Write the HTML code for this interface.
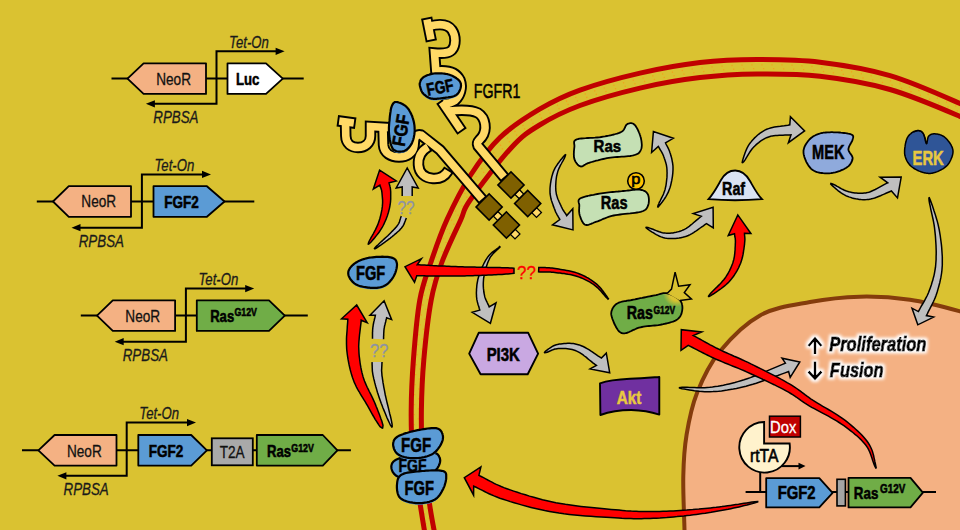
<!DOCTYPE html>
<html><head><meta charset="utf-8"><style>
html,body{margin:0;padding:0;background:#DAC231;width:960px;height:530px;overflow:hidden}
svg{display:block}
text{font-family:"Liberation Sans",sans-serif}
</style></head><body>
<svg width="960" height="530" viewBox="0 0 960 530">
<rect x="0" y="0" width="960" height="530" fill="#DAC231"/>
<path d="M684.5,548 C684.5,545 684.7,542 684.5,530 C684.3,518 682.9,491.9 683.3,476 C683.6,460.1 684.3,448.4 686.6,434.6 C688.9,420.8 691.5,406.9 697,393 C702.5,379.1 709.3,364.4 719.8,351.5 C730.3,338.6 745,323.6 760,315.4 C775,307.1 793.3,305.1 810,302 C826.7,298.9 843.3,297.1 860,296.7 C876.7,296.3 893.3,297.4 910,299.8 C926.7,302.2 947.5,307.9 960,311.3 C972.5,314.7 980.8,318.6 985,320 L985,548 Z" fill="#F4B183" stroke="#843C0C" stroke-width="4"/>
<path d="M432.7,538.5 L432.5,537.4 L432.3,536.3 L432.1,535.2 L431.9,534.1 L431.7,533.0 L431.5,531.9 L431.3,530.9 L431.1,529.8 L430.9,528.7 L430.7,527.7 L430.5,526.6 L430.3,525.6 L430.1,524.5 L430.0,523.4 L429.8,522.3 L429.6,521.2 L429.4,520.1 L429.3,519.6 L429.1,518.4 L428.9,517.2 L428.7,516.1 L428.5,514.8 L428.3,513.6 L428.1,512.3 L427.9,511.0 L427.6,509.7 L427.4,508.3 L427.2,506.9 L427.0,505.5 L426.8,504.0 L426.5,502.4 L426.3,500.8 L426.0,499.1 L425.8,497.4 L425.5,495.6 L425.2,493.8 L425.0,492.0 L424.7,490.2 L424.4,488.3 L424.1,486.4 L423.8,484.4 L423.5,482.5 L423.3,480.5 L423.0,478.5 L422.7,476.6 L422.4,474.6 L422.1,472.6 L421.9,470.6 L421.6,468.7 L421.4,466.7 L421.1,464.8 L420.9,462.9 L420.6,461.1 L420.4,459.2 L420.2,457.4 L420.0,455.6 L419.8,453.9 L419.6,452.3 L419.5,450.6 L419.3,449.0 L419.2,447.5 L419.1,446.0 L418.9,444.6 L418.9,443.8 L418.8,442.4 L418.7,441.1 L418.6,439.7 L418.5,438.4 L418.5,437.1 L418.4,435.8 L418.3,434.6 L418.3,433.3 L418.3,432.1 L418.2,430.9 L418.2,429.6 L418.2,428.4 L418.1,427.2 L418.1,426.0 L418.1,424.7 L418.1,423.5 L418.1,422.3 L418.1,421.0 L418.1,419.7 L418.1,418.4 L418.1,417.1 L418.1,415.7 L418.1,414.4 L418.2,412.9 L418.2,411.5 L418.2,410.0 L418.2,408.5 L418.2,407.0 L418.3,405.5 L418.3,403.9 L418.3,402.4 L418.4,400.8 L418.4,399.3 L418.4,397.7 L418.5,396.1 L418.5,394.5 L418.6,392.9 L418.6,391.3 L418.7,389.6 L418.8,388.0 L418.8,386.3 L418.9,384.7 L419.0,383.0 L419.1,381.3 L419.2,379.6 L419.3,377.9 L419.4,376.2 L419.5,374.4 L419.6,372.7 L419.7,370.9 L419.8,369.2 L419.9,367.4 L420.1,365.6 L420.2,363.8 L420.3,362.0 L420.5,360.2 L420.6,359.2 L420.7,357.4 L420.9,355.4 L421.1,353.5 L421.2,351.5 L421.4,349.5 L421.6,347.4 L421.8,345.4 L422.0,343.3 L422.2,341.2 L422.4,339.0 L422.6,336.9 L422.8,334.8 L423.0,332.7 L423.3,330.5 L423.5,328.4 L423.7,326.3 L424.0,324.2 L424.2,322.1 L424.5,320.0 L424.7,318.0 L425.0,315.9 L425.3,313.9 L425.5,312.0 L425.8,310.1 L426.1,308.2 L426.4,306.4 L426.6,304.6 L426.9,302.8 L427.2,301.2 L427.5,299.5 L427.8,298.0 L428.1,296.5 L428.4,295.0 L428.6,294.3 L428.9,292.9 L429.2,291.5 L429.5,290.2 L429.8,288.9 L430.2,287.6 L430.5,286.4 L430.8,285.1 L431.2,283.9 L431.5,282.8 L431.8,281.6 L432.2,280.4 L432.4,279.9 L432.7,278.7 L433.1,277.6 L433.5,276.5 L433.9,275.3 L434.2,274.2 L434.6,273.0 L435.0,271.9 L435.4,270.7 L435.8,269.5 L436.3,268.3 L436.7,267.1 L437.1,265.8 L437.6,264.6 L438.0,263.3 L438.5,262.0 L439.0,260.6 L439.5,259.3 L439.9,257.9 L440.5,256.5 L441.0,255.1 L441.5,253.7 L442.0,252.3 L442.6,250.9 L442.9,250.2 L443.4,248.7 L444.0,247.3 L444.6,245.8 L445.2,244.4 L445.8,242.9 L446.4,241.5 L447.0,240.0 L447.3,239.3 L447.9,237.8 L448.5,236.4 L449.1,234.9 L449.7,233.5 L450.4,232.0 L451.0,230.6 L451.6,229.2 L452.3,227.8 L452.9,226.4 L453.5,225.0 L454.1,223.7 L455.0,221.7 L455.6,220.4 L456.2,219.2 L457.0,217.4 L457.8,215.7 L458.5,213.9 L459.2,212.3 L459.8,210.6 L460.3,209.5 L460.8,208.3 L461.3,207.1 L462.0,205.8 L462.7,204.5 L463.2,203.4 L464.1,201.9 L464.8,200.7 L465.9,199.0 L466.7,197.6 L467.5,196.3 L468.4,194.9 L469.3,193.4 L470.3,191.9 L470.7,191.2 L471.7,189.7 L472.7,188.1 L473.8,186.5 L474.2,185.8 L475.3,184.3 L476.4,182.7 L477.6,181.0 L478.0,180.3 L479.2,178.7 L480.4,177.0 L480.8,176.3 L482.0,174.7 L483.3,173.0 L483.7,172.3 L485.0,170.7 L485.4,170.0 L486.7,168.3 L487.9,166.7 L488.4,166.0 L489.6,164.4 L490.9,162.7 L491.4,162.1 L492.7,160.5 L493.9,158.9 L494.4,158.3 L495.7,156.7 L496.9,155.2 L497.5,154.6 L498.7,153.1 L500.0,151.6 L500.5,151.0 L501.7,149.6 L502.9,148.3 L504.1,146.9 L504.7,146.4 L505.9,145.1 L507.0,143.9 L508.1,142.8 L509.3,141.7 L510.4,140.6 L511.5,139.5 L512.6,138.5 L513.7,137.5 L514.8,136.6 L515.9,135.7 L517.0,134.8 L518.0,133.9 L519.6,132.6 L520.6,131.8 L521.7,131.0 L523.2,129.9 L524.3,129.1 L525.3,128.4 L526.9,127.3 L528.0,126.6 L529.1,125.9 L530.7,124.8 L531.9,124.1 L533.5,123.0 L534.7,122.3 L536.0,121.5 L537.2,120.8 L538.5,120.0 L540.3,118.9 L541.5,118.1 L542.8,117.4 L544.1,116.7 L545.3,116.0 L546.5,115.2 L547.8,114.5 L549.0,113.8 L550.3,113.2 L551.5,112.5 L552.8,111.8 L554.0,111.2 L555.3,110.5 L555.9,110.2 L557.2,109.6 L558.5,108.9 L559.8,108.3 L561.1,107.7 L562.4,107.1 L563.7,106.4 L564.4,106.1 L565.7,105.5 L567.1,104.9 L568.5,104.3 L569.9,103.7 L571.4,103.1 L572.9,102.5 L573.6,102.3 L575.1,101.7 L576.7,101.1 L578.2,100.5 L579.9,99.9 L581.5,99.3 L583.2,98.7 L585.0,98.1 L586.8,97.4 L587.6,97.1 L589.5,96.5 L591.3,95.9 L593.2,95.3 L595.2,94.7 L597.1,94.1 L599.1,93.5 L601.1,92.9 L603.1,92.3 L605.2,91.7 L607.2,91.1 L609.3,90.5 L611.4,89.9 L613.5,89.3 L615.6,88.7 L617.7,88.2 L619.8,87.6 L621.9,87.0 L624.0,86.5 L626.1,86.0 L628.1,85.4 L630.2,84.9 L632.3,84.4 L634.4,83.9 L636.4,83.4 L638.4,82.9 L640.4,82.5 L642.4,82.0 L644.4,81.5 L646.4,81.1 L648.4,80.7 L649.4,80.4 L651.4,80.0 L653.4,79.6 L655.4,79.2 L657.5,78.8 L659.5,78.4 L661.5,78.0 L663.5,77.6 L665.5,77.2 L667.5,76.9 L669.5,76.5 L671.5,76.2 L673.5,75.8 L675.5,75.5 L677.5,75.1 L679.5,74.8 L681.5,74.5 L683.5,74.2 L685.5,73.9 L687.5,73.6 L689.4,73.3 L691.4,73.1 L693.4,72.8 L695.3,72.5 L697.3,72.3 L699.3,72.1 L701.2,71.8 L703.1,71.6 L705.0,71.4 L706.9,71.2 L708.8,71.0 L710.7,70.8 L712.6,70.6 L714.5,70.5 L716.4,70.3 L718.2,70.2 L720.1,70.0 L721.9,69.9 L723.8,69.8 L725.6,69.6 L727.5,69.5 L728.4,69.5 L730.3,69.4 L732.1,69.3 L734.0,69.2 L735.9,69.1 L737.7,69.1 L739.6,69.0 L741.5,68.9 L743.4,68.9 L745.3,68.8 L747.2,68.8 L749.2,68.7 L751.1,68.7 L753.1,68.7 L755.0,68.7 L757.0,68.6 L759.0,68.6 L761.0,68.6 L763.0,68.6 L765.1,68.6 L767.1,68.6 L769.1,68.6 L771.1,68.6 L773.2,68.6 L775.2,68.6 L777.3,68.7 L779.3,68.7 L781.4,68.7 L783.5,68.8 L785.5,68.8 L787.6,68.9 L789.7,68.9 L791.8,69.0 L793.9,69.1 L796.0,69.2 L798.2,69.3 L800.3,69.4 L802.4,69.6 L804.6,69.7 L806.7,69.9 L807.8,69.9 L809.9,70.1 L812.1,70.3 L814.3,70.5 L816.5,70.8 L818.7,71.0 L820.9,71.3 L823.1,71.5 L825.4,71.8 L827.6,72.1 L829.9,72.4 L832.1,72.7 L834.4,73.0 L836.7,73.4 L839.0,73.7 L841.4,74.1 L843.7,74.4 L846.0,74.8 L848.4,75.2 L850.7,75.6 L853.0,76.0 L855.4,76.4 L857.8,76.9 L860.1,77.3 L862.5,77.8 L864.8,78.3 L867.2,78.8 L869.6,79.3 L871.9,79.8 L874.3,80.4 L876.6,81.0 L879.0,81.5 L881.3,82.1 L883.7,82.8 L886.0,83.4 L887.1,83.7 L889.5,84.4 L891.8,85.1 L894.2,85.8 L896.7,86.6 L899.1,87.5 L901.6,88.3 L904.2,89.2 L906.7,90.1 L909.3,91.1 L911.9,92.0 L914.5,93.0 L917.1,94.0 L919.7,95.0 L922.3,96.1 L924.8,97.1 L927.4,98.1 L929.9,99.2 L932.4,100.2 L934.8,101.2 L937.2,102.2 L939.6,103.2 L941.9,104.2 L944.1,105.2 L946.3,106.1 L948.4,107.0 L950.4,107.9 L952.4,108.7 L953.2,109.1 L955.1,109.9 L956.8,110.6 L958.4,111.3 L959.8,112.0 L961.2,112.6 L961.8,112.9 L963.0,113.4 L964.2,113.9 L964.6,114.2 L965.6,114.7 L966.6,115.1 L966.9,115.3 L967.7,115.7 L968.0,115.9 L968.7,116.3 L969.0,116.5 L969.6,116.8 L969.8,117.0 L970.4,117.3 L970.6,117.5 L971.2,117.8 L971.4,118.0 L971.9,118.3 L972.1,118.5 L972.6,118.8 L972.8,118.9 L973.4,119.3 L973.9,119.6 L974.4,120.0 L974.7,120.1 L975.2,120.5 L975.8,120.8" fill="none" stroke="#F2A31C" stroke-width="1.3" stroke-dasharray="1.3 8.7" stroke-dashoffset="0"/>
<path d="M428.9,539.2 L428.7,538.0 L428.5,536.9 L428.3,535.8 L428.1,534.7 L427.9,533.7 L427.7,532.6 L427.6,531.5 L427.4,530.5 L427.2,529.4 L427.0,528.4 L426.8,527.3 L426.6,526.2 L426.4,525.2 L426.2,524.1 L426.0,523.0 L425.8,521.9 L425.6,520.8 L425.5,520.2 L425.3,519.0 L425.1,517.9 L424.9,516.7 L424.7,515.5 L424.5,514.2 L424.3,512.9 L424.1,511.6 L423.9,510.3 L423.7,508.9 L423.5,507.5 L423.2,506.0 L423.0,504.5 L422.8,503.0 L422.5,501.3 L422.3,499.7 L422.0,498.0 L421.8,496.2 L421.5,494.4 L421.2,492.6 L420.9,490.7 L420.6,488.8 L420.4,486.9 L420.1,485.0 L419.8,483.0 L419.5,481.0 L419.2,479.1 L418.9,477.1 L418.7,475.1 L418.4,473.1 L418.1,471.2 L417.8,469.2 L417.6,467.2 L417.3,465.3 L417.1,463.4 L416.9,461.5 L416.6,459.7 L416.4,457.9 L416.2,456.1 L416.0,454.3 L415.9,452.6 L415.7,451.0 L415.5,449.4 L415.4,447.8 L415.3,446.3 L415.2,444.9 L415.1,444.1 L415.0,442.7 L414.9,441.3 L414.8,440.0 L414.7,438.6 L414.7,437.3 L414.6,436.0 L414.5,434.7 L414.5,433.5 L414.5,432.2 L414.4,431.0 L414.4,429.7 L414.4,428.5 L414.3,427.3 L414.3,426.0 L414.3,424.8 L414.3,423.5 L414.3,422.3 L414.3,421.0 L414.3,419.7 L414.3,418.4 L414.3,417.1 L414.3,415.7 L414.4,414.3 L414.4,412.9 L414.4,411.5 L414.4,410.0 L414.4,408.5 L414.4,406.9 L414.5,405.4 L414.5,403.9 L414.5,402.3 L414.6,400.8 L414.6,399.2 L414.6,397.6 L414.7,396.0 L414.7,394.4 L414.8,392.8 L414.8,391.1 L414.9,389.5 L415.0,387.8 L415.0,386.2 L415.1,384.5 L415.2,382.8 L415.3,381.1 L415.4,379.4 L415.5,377.7 L415.6,375.9 L415.7,374.2 L415.8,372.4 L415.9,370.7 L416.0,368.9 L416.1,367.1 L416.3,365.3 L416.4,363.5 L416.6,361.7 L416.7,359.8 L416.8,358.9 L416.9,357.0 L417.1,355.1 L417.3,353.2 L417.4,351.2 L417.6,349.1 L417.8,347.1 L418.0,345.0 L418.2,342.9 L418.4,340.8 L418.6,338.7 L418.8,336.5 L419.0,334.4 L419.3,332.3 L419.5,330.1 L419.7,328.0 L420.0,325.8 L420.2,323.7 L420.5,321.6 L420.7,319.5 L421.0,317.5 L421.2,315.4 L421.5,313.4 L421.8,311.5 L422.0,309.5 L422.3,307.6 L422.6,305.8 L422.9,304.0 L423.2,302.2 L423.5,300.5 L423.8,298.8 L424.1,297.3 L424.4,295.7 L424.7,294.2 L424.9,293.5 L425.2,292.0 L425.5,290.6 L425.8,289.3 L426.1,287.9 L426.5,286.6 L426.8,285.4 L427.2,284.1 L427.5,282.9 L427.8,281.7 L428.2,280.5 L428.6,279.3 L428.8,278.7 L429.1,277.6 L429.5,276.4 L429.9,275.3 L430.2,274.1 L430.6,273.0 L431.0,271.8 L431.4,270.6 L431.8,269.5 L432.3,268.3 L432.7,267.1 L433.1,265.8 L433.6,264.6 L434.0,263.3 L434.5,262.0 L434.9,260.7 L435.4,259.4 L435.9,258.0 L436.4,256.6 L436.9,255.2 L437.4,253.8 L438.0,252.4 L438.5,250.9 L439.1,249.5 L439.3,248.8 L439.9,247.3 L440.5,245.9 L441.1,244.4 L441.6,242.9 L442.3,241.5 L442.9,240.0 L443.5,238.5 L443.7,237.8 L444.4,236.3 L445.0,234.9 L445.6,233.4 L446.3,232.0 L446.9,230.5 L447.5,229.1 L448.2,227.6 L448.8,226.2 L449.4,224.8 L450.1,223.5 L450.7,222.1 L451.6,220.1 L452.2,218.8 L452.8,217.6 L453.6,215.8 L454.3,214.2 L455.0,212.5 L455.6,210.9 L456.3,209.2 L456.8,208.0 L457.3,206.7 L457.9,205.5 L458.6,204.1 L459.3,202.7 L459.9,201.6 L460.8,200.0 L461.5,198.8 L462.6,197.0 L463.4,195.7 L464.3,194.3 L465.2,192.8 L466.1,191.4 L467.1,189.9 L467.5,189.2 L468.5,187.6 L469.6,186.0 L470.6,184.5 L471.0,183.7 L472.2,182.1 L473.3,180.5 L474.5,178.9 L474.9,178.2 L476.1,176.5 L477.3,174.8 L477.7,174.2 L479.0,172.5 L480.2,170.8 L480.6,170.1 L481.9,168.4 L482.4,167.7 L483.6,166.1 L484.9,164.4 L485.4,163.7 L486.6,162.1 L487.9,160.4 L488.4,159.8 L489.7,158.1 L491.0,156.5 L491.5,155.9 L492.7,154.3 L494.0,152.8 L494.5,152.1 L495.8,150.6 L497.1,149.1 L497.6,148.5 L498.9,147.1 L500.1,145.7 L501.3,144.4 L501.9,143.8 L503.1,142.5 L504.3,141.3 L505.5,140.1 L506.6,138.9 L507.8,137.8 L508.9,136.8 L510.0,135.7 L511.2,134.7 L512.3,133.7 L513.4,132.8 L514.5,131.8 L515.6,130.9 L517.2,129.7 L518.3,128.8 L519.4,128.0 L520.9,126.8 L522.1,126.0 L523.2,125.3 L524.7,124.2 L525.9,123.4 L527.0,122.7 L528.7,121.6 L529.8,120.9 L531.5,119.8 L532.7,119.0 L534.0,118.3 L535.2,117.5 L536.5,116.7 L538.3,115.6 L539.6,114.9 L540.9,114.1 L542.1,113.4 L543.4,112.7 L544.7,111.9 L545.9,111.2 L547.2,110.5 L548.5,109.8 L549.7,109.1 L551.0,108.5 L552.3,107.8 L553.6,107.1 L554.2,106.8 L555.5,106.2 L556.8,105.5 L558.1,104.9 L559.4,104.2 L560.8,103.6 L562.1,103.0 L562.8,102.7 L564.2,102.1 L565.6,101.5 L567.0,100.8 L568.5,100.2 L570.0,99.6 L571.5,99.0 L572.2,98.7 L573.7,98.1 L575.3,97.5 L576.9,96.9 L578.6,96.3 L580.2,95.7 L582.0,95.1 L583.7,94.5 L585.5,93.8 L586.4,93.5 L588.3,92.9 L590.2,92.3 L592.1,91.7 L594.0,91.1 L596.0,90.5 L598.0,89.8 L600.0,89.2 L602.1,88.6 L604.1,88.0 L606.2,87.4 L608.3,86.8 L610.4,86.2 L612.5,85.6 L614.6,85.1 L616.7,84.5 L618.8,83.9 L620.9,83.4 L623.0,82.8 L625.1,82.3 L627.2,81.7 L629.3,81.2 L631.4,80.7 L633.5,80.2 L635.5,79.7 L637.5,79.2 L639.6,78.8 L641.6,78.3 L643.6,77.8 L645.6,77.4 L647.6,77.0 L648.6,76.7 L650.6,76.3 L652.7,75.9 L654.7,75.5 L656.7,75.1 L658.7,74.7 L660.8,74.3 L662.8,73.9 L664.8,73.5 L666.8,73.1 L668.8,72.8 L670.9,72.4 L672.9,72.1 L674.9,71.7 L676.9,71.4 L678.9,71.1 L680.9,70.8 L682.9,70.4 L684.9,70.1 L686.9,69.9 L688.9,69.6 L690.9,69.3 L692.9,69.0 L694.9,68.8 L696.8,68.5 L698.8,68.3 L700.8,68.0 L702.7,67.8 L704.6,67.6 L706.6,67.4 L708.5,67.2 L710.4,67.0 L712.3,66.9 L714.2,66.7 L716.0,66.5 L717.9,66.4 L719.8,66.2 L721.7,66.1 L723.5,66.0 L725.4,65.8 L727.3,65.7 L728.2,65.7 L730.1,65.6 L732.0,65.5 L733.8,65.4 L735.7,65.3 L737.6,65.3 L739.5,65.2 L741.4,65.1 L743.3,65.1 L745.2,65.0 L747.1,65.0 L749.1,64.9 L751.0,64.9 L753.0,64.9 L755.0,64.9 L757.0,64.9 L759.0,64.8 L761.0,64.8 L763.0,64.8 L765.0,64.8 L767.1,64.8 L769.1,64.8 L771.1,64.8 L773.2,64.8 L775.3,64.8 L777.3,64.9 L779.4,64.9 L781.5,64.9 L783.6,65.0 L785.6,65.0 L787.7,65.1 L789.9,65.1 L792.0,65.2 L794.1,65.3 L796.2,65.4 L798.4,65.5 L800.5,65.6 L802.7,65.8 L804.8,65.9 L807.0,66.1 L808.1,66.2 L810.3,66.3 L812.5,66.5 L814.7,66.8 L816.9,67.0 L819.1,67.2 L821.3,67.5 L823.6,67.8 L825.8,68.1 L828.1,68.3 L830.4,68.6 L832.7,69.0 L835.0,69.3 L837.3,69.6 L839.6,69.9 L841.9,70.3 L844.3,70.7 L846.6,71.0 L849.0,71.4 L851.3,71.8 L853.7,72.3 L856.1,72.7 L858.5,73.1 L860.8,73.6 L863.2,74.1 L865.6,74.6 L868.0,75.1 L870.4,75.6 L872.8,76.1 L875.1,76.7 L877.5,77.3 L879.9,77.9 L882.3,78.5 L884.6,79.1 L887.0,79.7 L888.2,80.1 L890.5,80.8 L892.9,81.5 L895.4,82.2 L897.8,83.0 L900.3,83.9 L902.9,84.7 L905.4,85.6 L908.0,86.6 L910.6,87.5 L913.2,88.5 L915.9,89.5 L918.5,90.5 L921.1,91.5 L923.7,92.5 L926.3,93.6 L928.8,94.6 L931.4,95.7 L933.9,96.7 L936.3,97.7 L938.7,98.7 L941.1,99.7 L943.4,100.7 L945.6,101.7 L947.8,102.6 L949.9,103.5 L951.9,104.4 L953.9,105.2 L954.8,105.6 L956.6,106.4 L958.3,107.1 L959.9,107.8 L961.4,108.5 L962.8,109.1 L963.4,109.4 L964.6,110.0 L965.8,110.5 L966.3,110.8 L967.3,111.3 L968.3,111.7 L968.7,112.0 L969.5,112.4 L969.8,112.6 L970.6,113.0 L970.9,113.2 L971.6,113.6 L971.8,113.8 L972.5,114.1 L972.7,114.3 L973.3,114.6 L973.5,114.8 L974.0,115.2 L974.2,115.3 L974.7,115.6 L975.0,115.8 L975.5,116.1 L976.0,116.5 L976.5,116.8 L976.7,116.9 L977.3,117.3 L977.8,117.6" fill="none" stroke="#F2A31C" stroke-width="1.3" stroke-dasharray="1.3 8.7" stroke-dashoffset="5"/>
<path d="M426,540 C425.1,534.2 422.6,520 420.3,505 C418.1,490 414,465.8 412.5,450 C411,434.2 411.1,425 411.2,410 C411.3,395 412,378.3 413.4,360 C414.8,341.7 416.9,316.3 419.8,300 C422.7,283.7 426.5,275.3 431,262 C435.5,248.7 440.3,234.3 446.8,220 C453.3,205.7 461.1,189.8 470,176 C478.9,162.2 488.4,148.6 500,137.5 C511.6,126.4 526.3,117.1 539.6,109.2 C552.9,101.3 563.3,96.1 580,90.1 C596.7,84.1 620,77.7 640,73.1 C660,68.5 680.5,64.8 700,62.5 C719.5,60.2 737,59.5 757,59.5 C777,59.5 797.8,59.5 820,62.2 C842.2,64.9 866.7,68.7 890,75.6 C913.3,82.5 945,96.9 960,103.5 C975,110.1 976.7,113.1 980,115" fill="none" stroke="#C00000" stroke-width="5"/>
<path d="M436,540 C434.9,534.2 431.9,520 429.7,505 C427.4,490 423.9,465.8 422.5,450 C421.1,434.2 421.2,425 421.4,410 C421.6,395 422.2,378.3 423.8,360 C425.4,341.7 428.2,316.3 431.2,300 C434.2,283.7 437.1,275.3 442,262 C446.9,248.7 456,230.3 460.7,220 C465.4,209.7 461.8,212.1 470.2,200 C478.6,187.9 499.7,160.2 511.3,147.7 C522.9,135.2 528.1,132 539.6,125 C551.1,118 563.3,111.7 580,105.5 C596.7,99.3 620,92.8 640,88.1 C660,83.4 680.5,79.9 700,77.6 C719.5,75.2 737,74.2 757,74 C777,73.8 797.8,73.7 820,76.3 C842.2,78.9 866.7,82.8 890,89.5 C913.3,96.2 945,110 960,116.4 C975,122.8 976.7,126.1 980,128" fill="none" stroke="#C00000" stroke-width="5"/>
<line x1="111.5" y1="78.6" x2="303.7" y2="78.6" stroke="#000" stroke-width="2"/>
<polygon points="127.5,78.6 143.6,63.3 206,63.3 206,93.9 143.6,93.9" fill="#F4B183" stroke="#000" stroke-width="1.8" stroke-linejoin="round"/>
<text transform="translate(156.21,84.59) scale(0.833,1)" font-size="16.36" font-weight="normal" font-style="normal" fill="#111"  stroke="#111" stroke-width="0.30">NeoR</text>
<polygon points="227.5,63.3 266,63.3 282.8,78.6 266,93.9 227.5,93.9" fill="#FFFFFF" stroke="#000" stroke-width="1.8" stroke-linejoin="round"/>
<text transform="translate(235.94,84.83) scale(0.787,1)" font-size="16.79" font-weight="bold" font-style="normal" fill="#000"  stroke="#000" stroke-width="0.55">Luc</text>
<polyline points="278.6,51.3 216.5,51.3 216.5,103.8 151.9,103.8" fill="none" stroke="#000" stroke-width="2"/>
<polygon points="284.6,51.3 275.6,47.7 275.6,54.9" fill="#000"/>
<polygon points="145.9,103.8 154.9,100.2 154.9,107.4" fill="#000"/>
<text transform="translate(229.11,48.14) scale(0.799,1)" font-size="16.48" font-weight="normal" font-style="italic" fill="#1a1a1a"  stroke="#1a1a1a" stroke-width="0.30">Tet-On</text>
<text transform="translate(153.30,122.74) scale(0.810,1)" font-size="16.48" font-weight="normal" font-style="italic" fill="#1a1a1a"  stroke="#1a1a1a" stroke-width="0.30">RPBSA</text>
<line x1="36.8" y1="201.5" x2="254.3" y2="201.5" stroke="#000" stroke-width="2"/>
<polygon points="53,201.5 68.8,186.2 131,186.2 131,216.8 68.8,216.8" fill="#F4B183" stroke="#000" stroke-width="1.8" stroke-linejoin="round"/>
<text transform="translate(81.31,207.49) scale(0.833,1)" font-size="16.36" font-weight="normal" font-style="normal" fill="#111"  stroke="#111" stroke-width="0.30">NeoR</text>
<polygon points="153.5,186.2 206.9,186.2 224.5,201.5 206.9,216.8 153.5,216.8" fill="#5B9BD5" stroke="#000" stroke-width="1.8" stroke-linejoin="round"/>
<text transform="translate(164.32,207.64) scale(0.832,1)" font-size="16.20" font-weight="bold" font-style="normal" fill="#000"  stroke="#000" stroke-width="0.55">FGF2</text>
<polyline points="205,174.4 141.9,174.4 141.9,227.7 77.5,227.7" fill="none" stroke="#000" stroke-width="2"/>
<polygon points="211,174.4 202,170.8 202,178" fill="#000"/>
<polygon points="71.5,227.7 80.5,224.1 80.5,231.3" fill="#000"/>
<text transform="translate(154.51,171.24) scale(0.799,1)" font-size="16.48" font-weight="normal" font-style="italic" fill="#1a1a1a"  stroke="#1a1a1a" stroke-width="0.30">Tet-On</text>
<text transform="translate(78.70,246.64) scale(0.810,1)" font-size="16.48" font-weight="normal" font-style="italic" fill="#1a1a1a"  stroke="#1a1a1a" stroke-width="0.30">RPBSA</text>
<line x1="80.8" y1="315.6" x2="307.8" y2="315.6" stroke="#000" stroke-width="2"/>
<polygon points="97,315.6 112.8,300.3 175.1,300.3 175.1,330.9 112.8,330.9" fill="#F4B183" stroke="#000" stroke-width="1.8" stroke-linejoin="round"/>
<text transform="translate(125.36,321.59) scale(0.833,1)" font-size="16.36" font-weight="normal" font-style="normal" fill="#111"  stroke="#111" stroke-width="0.30">NeoR</text>
<polygon points="196.8,300.3 269,300.3 284.8,315.6 269,330.9 196.8,330.9" fill="#70AD47" stroke="#000" stroke-width="1.8" stroke-linejoin="round"/>
<text transform="translate(210.15,321.64) scale(0.797,1)" font-size="16.43" font-weight="bold" font-style="normal" fill="#000"  stroke="#000" stroke-width="0.55">Ras</text>
<text transform="translate(234.45,316.49) scale(0.812,1)" font-size="10.85" font-weight="bold" font-style="normal" fill="#000"  stroke="#000" stroke-width="0.55">G12V</text>
<polyline points="248.2,288.6 185.9,288.6 185.9,341.7 120.7,341.7" fill="none" stroke="#000" stroke-width="2"/>
<polygon points="254.2,288.6 245.2,285 245.2,292.2" fill="#000"/>
<polygon points="114.7,341.7 123.7,338.1 123.7,345.3" fill="#000"/>
<text transform="translate(198.51,285.44) scale(0.799,1)" font-size="16.48" font-weight="normal" font-style="italic" fill="#1a1a1a"  stroke="#1a1a1a" stroke-width="0.30">Tet-On</text>
<text transform="translate(122.70,360.64) scale(0.810,1)" font-size="16.48" font-weight="normal" font-style="italic" fill="#1a1a1a"  stroke="#1a1a1a" stroke-width="0.30">RPBSA</text>
<line x1="22" y1="450.3" x2="350.9" y2="450.3" stroke="#000" stroke-width="2"/>
<polygon points="38.4,450.3 54.6,435 116.5,435 116.5,465.6 54.6,465.6" fill="#F4B183" stroke="#000" stroke-width="1.8" stroke-linejoin="round"/>
<text transform="translate(66.96,457.19) scale(0.833,1)" font-size="16.36" font-weight="normal" font-style="normal" fill="#111"  stroke="#111" stroke-width="0.30">NeoR</text>
<polygon points="138.3,435 191.2,435 206.9,450.3 191.2,465.6 138.3,465.6" fill="#5B9BD5" stroke="#000" stroke-width="1.8" stroke-linejoin="round"/>
<text transform="translate(148.87,457.34) scale(0.832,1)" font-size="16.20" font-weight="bold" font-style="normal" fill="#000"  stroke="#000" stroke-width="0.55">FGF2</text>
<rect x="211.8" y="438.3" width="41" height="27" fill="#A9A9A9" stroke="#000" stroke-width="1.8"/>
<text transform="translate(219.71,457.52) scale(0.820,1)" font-size="16.60" font-weight="normal" font-style="normal" fill="#111"  stroke="#111" stroke-width="0.30">T2A</text>
<polygon points="256.8,435 322.8,435 337.4,450.3 322.8,465.6 256.8,465.6" fill="#70AD47" stroke="#000" stroke-width="1.8" stroke-linejoin="round"/>
<text transform="translate(267.05,457.24) scale(0.797,1)" font-size="16.43" font-weight="bold" font-style="normal" fill="#000"  stroke="#000" stroke-width="0.55">Ras</text>
<text transform="translate(291.35,452.09) scale(0.812,1)" font-size="10.85" font-weight="bold" font-style="normal" fill="#000"  stroke="#000" stroke-width="0.55">G12V</text>
<polyline points="190,422.6 126.7,422.6 126.7,475.8 63.4,475.8" fill="none" stroke="#000" stroke-width="2"/>
<polygon points="196,422.6 187,419 187,426.2" fill="#000"/>
<polygon points="57.4,475.8 66.4,472.2 66.4,479.4" fill="#000"/>
<text transform="translate(139.31,419.44) scale(0.799,1)" font-size="16.48" font-weight="normal" font-style="italic" fill="#1a1a1a"  stroke="#1a1a1a" stroke-width="0.30">Tet-On</text>
<text transform="translate(63.50,494.74) scale(0.810,1)" font-size="16.48" font-weight="normal" font-style="italic" fill="#1a1a1a"  stroke="#1a1a1a" stroke-width="0.30">RPBSA</text>
<path d="M337.32,120.74 L339.20,121.00 L353.8,123 L355.68,123.26" fill="none" stroke="#000" stroke-width="11.4" stroke-linejoin="miter" stroke-linecap="butt"/>
<path d="M345.46,120.10 L345.50,122.00 L345.8,136 C346,144 351.5,147.5 358,147.5 C365,147.5 370.5,143 370.5,136 L370.5,126.5 L395,128 L396.90,128.12" fill="none" stroke="#000" stroke-width="11.4" stroke-linejoin="miter" stroke-linecap="butt"/>
<path d="M382.95,125.10 L383.00,127.00 L383.5,145 C384,153 391,157 399,157 C407,157 413,153 414,146 L414.5,140 C415,136 418,134 421,135 L440,150 L482,199 L483.24,200.44" fill="none" stroke="#000" stroke-width="11.4" stroke-linejoin="miter" stroke-linecap="butt"/>
<path d="M429.65,146.06 L428.00,147.00 C421,151 418,158 418.5,165 C419,173 425,178 433,178.5 C440,179 445,176 448,171 L448.98,169.37" fill="none" stroke="#000" stroke-width="11.4" stroke-linejoin="miter" stroke-linecap="butt"/>
<path d="M339.2,121 L353.8,123" fill="none" stroke="#FFD966" stroke-width="7.6" stroke-linejoin="miter" stroke-linecap="butt"/>
<path d="M345.5,122 L345.8,136 C346,144 351.5,147.5 358,147.5 C365,147.5 370.5,143 370.5,136 L370.5,126.5 L395,128" fill="none" stroke="#FFD966" stroke-width="7.6" stroke-linejoin="miter" stroke-linecap="butt"/>
<path d="M383,127 L383.5,145 C384,153 391,157 399,157 C407,157 413,153 414,146 L414.5,140 C415,136 418,134 421,135 L440,150 L482,199" fill="none" stroke="#FFD966" stroke-width="7.6" stroke-linejoin="miter" stroke-linecap="butt"/>
<path d="M428,147 C421,151 418,158 418.5,165 C419,173 425,178 433,178.5 C440,179 445,176 448,171" fill="none" stroke="#FFD966" stroke-width="7.6" stroke-linejoin="miter" stroke-linecap="butt"/>
<rect x="511.5" y="230.5" width="7" height="7" transform="rotate(45 515 234)" fill="#FFD966" stroke="#000" stroke-width="1.3"/>
<rect x="494.6" y="212.8" width="6.5" height="6.5" transform="rotate(45 497.8 216)" fill="#FFD966" stroke="#000" stroke-width="1.3"/>
<rect x="479.9" y="197.8" width="18.5" height="18.5" transform="rotate(45 489.2 207)" fill="#7F6000" stroke="#000" stroke-width="1.6"/>
<rect x="497.1" y="215.8" width="18.5" height="18.5" transform="rotate(45 506.4 225.1)" fill="#7F6000" stroke="#000" stroke-width="1.6"/>
<path d="M426.63,17.64 L427.00,19.50 L431,39.5 L431.37,41.36" fill="none" stroke="#000" stroke-width="11.4" stroke-linejoin="miter" stroke-linecap="butt"/>
<path d="M428.16,26.46 L430.00,26.00 C440,23.5 448,24 452,30 C456,36 456,45 452,50 C448,54 441,53.5 434.5,53 L437,86 L437.14,87.89" fill="none" stroke="#000" stroke-width="11.4" stroke-linejoin="miter" stroke-linecap="butt"/>
<path d="M435.11,71.19 L437.00,71.00 C447,70 456,72 460,80 C463,88 460,96 455,100.5 C451,103 447,104 443,103.5 L441.11,103.26" fill="none" stroke="#000" stroke-width="11.4" stroke-linejoin="miter" stroke-linecap="butt"/>
<path d="M440.93,100.43 L442.00,102.00 L461,130 L462.07,131.57" fill="none" stroke="#000" stroke-width="11.4" stroke-linejoin="miter" stroke-linecap="butt"/>
<path d="M447.11,111.21 L449.00,111.00 C458,110 470,109 478,113 C486,118 487,130 482,137 C479,141 476,142 478,146 L504,177 L505.22,178.46" fill="none" stroke="#000" stroke-width="11.4" stroke-linejoin="miter" stroke-linecap="butt"/>
<path d="M427,19.5 L431,39.5" fill="none" stroke="#FFD966" stroke-width="7.6" stroke-linejoin="miter" stroke-linecap="butt"/>
<path d="M430,26 C440,23.5 448,24 452,30 C456,36 456,45 452,50 C448,54 441,53.5 434.5,53 L437,86" fill="none" stroke="#FFD966" stroke-width="7.6" stroke-linejoin="miter" stroke-linecap="butt"/>
<path d="M437,71 C447,70 456,72 460,80 C463,88 460,96 455,100.5 C451,103 447,104 443,103.5" fill="none" stroke="#FFD966" stroke-width="7.6" stroke-linejoin="miter" stroke-linecap="butt"/>
<path d="M442,102 L461,130" fill="none" stroke="#FFD966" stroke-width="7.6" stroke-linejoin="miter" stroke-linecap="butt"/>
<path d="M449,111 C458,110 470,109 478,113 C486,118 487,130 482,137 C479,141 476,142 478,146 L504,177" fill="none" stroke="#FFD966" stroke-width="7.6" stroke-linejoin="miter" stroke-linecap="butt"/>
<rect x="533" y="209" width="7" height="7" transform="rotate(45 536.5 212.5)" fill="#FFD966" stroke="#000" stroke-width="1.3"/>
<rect x="516" y="190.9" width="6.5" height="6.5" transform="rotate(45 519.3 194.2)" fill="#FFD966" stroke="#000" stroke-width="1.3"/>
<rect x="501.8" y="175.8" width="18.5" height="18.5" transform="rotate(45 511 185)" fill="#7F6000" stroke="#000" stroke-width="1.6"/>
<rect x="518.5" y="194.2" width="18.5" height="18.5" transform="rotate(45 527.7 203.4)" fill="#7F6000" stroke="#000" stroke-width="1.6"/>
<path d="M424.1,78.4 L424.8,78 L425.5,77.7 L426.3,77.3 L427.1,76.9 L428,76.6 L429,76.3 L429.9,76 L430.9,75.7 L431.9,75.5 L432.9,75.3 L434,75.1 L435,75 L436,74.9 L437.1,74.9 L438.3,74.9 L439.5,74.9 L440.6,74.9 L441.8,75 L443,75.1 L444.2,75.2 L445.4,75.4 L446.5,75.6 L447.6,75.8 L448.6,76.1 L449.6,76.4 L450.6,76.8 L451.6,77.2 L452.6,77.6 L453.5,78.1 L454.4,78.6 L455.3,79.1 L456.1,79.6 L456.9,80.2 L457.6,80.7 L458.2,81.3 L458.8,81.8 L459.3,82.3 L459.7,82.9 L460,83.4 L460.3,83.9 L460.6,84.5 L460.7,85 L460.9,85.6 L460.9,86.2 L461,86.8 L461,87.4 L460.9,88 L460.8,88.6 L460.7,89.3 L460.5,89.9 L460.3,90.7 L460,91.4 L459.7,92.2 L459.3,93 L458.9,93.7 L458.4,94.4 L457.9,95.1 L457.3,95.7 L456.7,96.3 L456,96.8 L455.2,97.2 L454.4,97.6 L453.5,97.9 L452.5,98.2 L451.4,98.4 L450.4,98.6 L449.3,98.8 L448.1,99 L447,99.1 L445.9,99.2 L444.8,99.4 L443.8,99.5 L442.8,99.6 L441.7,99.8 L440.7,99.9 L439.6,100.1 L438.5,100.2 L437.5,100.3 L436.4,100.4 L435.4,100.4 L434.4,100.5 L433.4,100.4 L432.5,100.3 L431.6,100.2 L430.8,100 L429.9,99.7 L429.1,99.4 L428.4,99.1 L427.6,98.7 L426.9,98.2 L426.2,97.8 L425.6,97.3 L425,96.8 L424.4,96.3 L423.9,95.9 L423.4,95.4 L423,94.9 L422.6,94.5 L422.2,93.9 L421.9,93.4 L421.6,92.9 L421.4,92.4 L421.2,91.9 L421,91.3 L420.8,90.8 L420.7,90.3 L420.5,89.8 L420.4,89.3 L420.3,88.8 L420.1,88.4 L420,87.9 L419.9,87.5 L419.8,87 L419.8,86.6 L419.7,86.1 L419.7,85.7 L419.7,85.2 L419.8,84.8 L419.9,84.4 L420,83.9 L420.2,83.4 L420.3,83 L420.5,82.5 L420.8,82 L421,81.5 L421.3,81 L421.7,80.5 L422.1,80.1 L422.5,79.6 L423,79.2 L423.5,78.8 L424.1,78.4 Z" fill="#5B9BD5" stroke="none" stroke-width="0" stroke-linejoin="round" />
<path d="M424.1,76.8 L424.8,76.4 L425.5,76.1 L426.3,75.7 L427.1,75.3 L428,75 L429,74.7 L429.9,74.4 L430.9,74.1 L431.9,73.9 L432.9,73.7 L434,73.5 L435,73.4 L436,73.3 L437.1,73.3 L438.3,73.3 L439.5,73.3 L440.6,73.3 L441.8,73.4 L443,73.5 L444.2,73.6 L445.4,73.8 L446.5,74 L447.6,74.2 L448.6,74.5 L449.6,74.8 L450.6,75.2 L451.6,75.6 L452.6,76 L453.5,76.5 L454.4,77 L455.3,77.5 L456.1,78 L456.9,78.6 L457.6,79.1 L458.2,79.7 L458.8,80.2 L459.3,80.7 L459.7,81.3 L460,81.8 L460.3,82.3 L460.6,82.9 L460.7,83.4 L460.9,84 L460.9,84.6 L461,85.2 L461,85.8 L460.9,86.4 L460.8,87 L460.7,87.7 L460.5,88.3 L460.3,89.1 L460,89.8 L459.7,90.6 L459.3,91.4 L458.9,92.1 L458.4,92.8 L457.9,93.5 L457.3,94.1 L456.7,94.7 L456,95.2 L455.2,95.6 L454.4,96 L453.5,96.3 L452.5,96.6 L451.4,96.8 L450.4,97 L449.3,97.2 L448.1,97.4 L447,97.5 L445.9,97.6 L444.8,97.8 L443.8,97.9 L442.8,98 L441.7,98.2 L440.7,98.3 L439.6,98.5 L438.5,98.6 L437.5,98.7 L436.4,98.8 L435.4,98.8 L434.4,98.9 L433.4,98.8 L432.5,98.7 L431.6,98.6 L430.8,98.4 L429.9,98.1 L429.1,97.8 L428.4,97.5 L427.6,97.1 L426.9,96.6 L426.2,96.2 L425.6,95.7 L425,95.2 L424.4,94.7 L423.9,94.3 L423.4,93.8 L423,93.3 L422.6,92.9 L422.2,92.3 L421.9,91.8 L421.6,91.3 L421.4,90.8 L421.2,90.3 L421,89.7 L420.8,89.2 L420.7,88.7 L420.5,88.2 L420.4,87.7 L420.3,87.2 L420.1,86.8 L420,86.3 L419.9,85.9 L419.8,85.4 L419.8,85 L419.7,84.5 L419.7,84.1 L419.7,83.6 L419.8,83.2 L419.9,82.8 L420,82.3 L420.2,81.8 L420.3,81.4 L420.5,80.9 L420.8,80.4 L421,79.9 L421.3,79.4 L421.7,78.9 L422.1,78.5 L422.5,78 L423,77.6 L423.5,77.2 L424.1,76.8 Z" fill="#5B9BD5" stroke="#000" stroke-width="2.2" stroke-linejoin="round" />
<text transform="translate(440.20,87.20) rotate(-11.0) translate(-13.83,6.11) scale(0.770,1)" font-size="17.70" font-weight="bold" fill="#000" stroke="#000" stroke-width="0.55">FGF</text>
<path d="M406.6,108.6 L407.3,109.3 L407.9,110.1 L408.6,110.9 L409.2,111.8 L409.7,112.8 L410.3,113.8 L410.8,114.8 L411.3,115.8 L411.7,116.8 L412.2,117.9 L412.5,119 L412.9,120 L413.2,121.1 L413.5,122.2 L413.8,123.3 L414,124.4 L414.2,125.6 L414.4,126.7 L414.5,127.9 L414.6,129.1 L414.6,130.2 L414.7,131.4 L414.7,132.5 L414.6,133.6 L414.5,134.7 L414.4,135.8 L414.2,136.9 L414,138 L413.8,139.1 L413.5,140.2 L413.2,141.3 L412.9,142.3 L412.5,143.3 L412.1,144.3 L411.7,145.2 L411.2,146 L410.7,146.8 L410.2,147.6 L409.6,148.3 L409,149 L408.3,149.7 L407.6,150.3 L406.9,150.9 L406.2,151.4 L405.5,151.9 L404.7,152.3 L404,152.6 L403.2,152.8 L402.4,153 L401.6,153.1 L400.7,153.2 L399.7,153.2 L398.8,153.2 L397.8,153.1 L396.9,152.9 L396,152.6 L395.2,152.2 L394.4,151.8 L393.6,151.3 L393,150.6 L392.4,149.8 L391.9,148.9 L391.5,147.8 L391.1,146.6 L390.7,145.4 L390.4,144 L390.1,142.7 L389.8,141.3 L389.6,139.9 L389.4,138.5 L389.2,137.1 L389.1,135.8 L389,134.5 L388.9,133.2 L388.9,131.8 L388.9,130.5 L388.9,129.1 L389,127.8 L389.1,126.4 L389.2,125.1 L389.3,123.7 L389.5,122.5 L389.6,121.2 L389.7,120 L389.8,118.8 L389.9,117.6 L390.1,116.4 L390.2,115.3 L390.4,114.1 L390.6,113 L390.7,111.9 L390.9,110.9 L391.1,109.9 L391.4,109 L391.6,108.2 L391.9,107.5 L392.2,106.8 L392.5,106.2 L392.8,105.7 L393.1,105.2 L393.4,104.8 L393.7,104.5 L394.1,104.2 L394.5,103.9 L394.9,103.7 L395.4,103.6 L395.9,103.6 L396.5,103.6 L397.2,103.7 L397.9,103.8 L398.7,104.1 L399.6,104.4 L400.5,104.7 L401.4,105.1 L402.4,105.6 L403.3,106.1 L404.2,106.7 L405.1,107.3 L405.9,107.9 L406.6,108.6 Z" fill="#5B9BD5" stroke="none" stroke-width="0" stroke-linejoin="round" />
<path d="M406.6,107 L407.3,107.7 L407.9,108.5 L408.6,109.3 L409.2,110.2 L409.7,111.2 L410.3,112.2 L410.8,113.2 L411.3,114.2 L411.7,115.2 L412.2,116.3 L412.5,117.4 L412.9,118.4 L413.2,119.5 L413.5,120.6 L413.8,121.7 L414,122.8 L414.2,124 L414.4,125.1 L414.5,126.3 L414.6,127.5 L414.6,128.6 L414.7,129.8 L414.7,130.9 L414.6,132 L414.5,133.1 L414.4,134.2 L414.2,135.3 L414,136.4 L413.8,137.5 L413.5,138.6 L413.2,139.7 L412.9,140.7 L412.5,141.7 L412.1,142.7 L411.7,143.6 L411.2,144.4 L410.7,145.2 L410.2,146 L409.6,146.7 L409,147.4 L408.3,148.1 L407.6,148.7 L406.9,149.3 L406.2,149.8 L405.5,150.3 L404.7,150.7 L404,151 L403.2,151.2 L402.4,151.4 L401.6,151.5 L400.7,151.6 L399.7,151.6 L398.8,151.6 L397.8,151.5 L396.9,151.3 L396,151 L395.2,150.6 L394.4,150.2 L393.6,149.7 L393,149 L392.4,148.2 L391.9,147.3 L391.5,146.2 L391.1,145 L390.7,143.8 L390.4,142.4 L390.1,141.1 L389.8,139.7 L389.6,138.3 L389.4,136.9 L389.2,135.5 L389.1,134.2 L389,132.9 L388.9,131.6 L388.9,130.2 L388.9,128.9 L388.9,127.5 L389,126.2 L389.1,124.8 L389.2,123.5 L389.3,122.1 L389.5,120.9 L389.6,119.6 L389.7,118.4 L389.8,117.2 L389.9,116 L390.1,114.8 L390.2,113.7 L390.4,112.5 L390.6,111.4 L390.7,110.3 L390.9,109.3 L391.1,108.3 L391.4,107.4 L391.6,106.6 L391.9,105.9 L392.2,105.2 L392.5,104.6 L392.8,104.1 L393.1,103.6 L393.4,103.2 L393.7,102.9 L394.1,102.6 L394.5,102.3 L394.9,102.1 L395.4,102 L395.9,102 L396.5,102 L397.2,102.1 L397.9,102.2 L398.7,102.5 L399.6,102.8 L400.5,103.1 L401.4,103.5 L402.4,104 L403.3,104.5 L404.2,105.1 L405.1,105.7 L405.9,106.3 L406.6,107 Z" fill="#5B9BD5" stroke="#000" stroke-width="2.2" stroke-linejoin="round" />
<text transform="translate(401.00,130.00) rotate(-80.0) translate(-16.24,6.42) scale(0.860,1)" font-size="18.60" font-weight="bold" fill="#000" stroke="#000" stroke-width="0.55">FGF</text>
<path d="M576.8,139.4 L578.1,139 L579.7,138.7 L581.5,138.5 L583.5,138.3 L585.7,138.2 L588,138 L590.3,137.9 L592.7,137.8 L595,137.7 L597.2,137.5 L599.4,137.3 L601.3,137 L603.2,136.7 L605,136.4 L606.9,136 L608.7,135.7 L610.5,135.3 L612.3,134.9 L614,134.5 L615.6,134 L617.1,133.6 L618.6,133.1 L619.8,132.6 L621,132.1 L622,131.5 L622.8,130.9 L623.5,130.1 L624,129.4 L624.4,128.6 L624.8,127.8 L625.2,127 L625.5,126.3 L625.8,125.7 L626.2,125.1 L626.6,124.6 L627.1,124.2 L627.7,123.9 L628.3,123.7 L628.9,123.5 L629.5,123.3 L630.2,123.2 L630.8,123.2 L631.4,123.2 L632.1,123.3 L632.7,123.5 L633.3,123.8 L633.9,124.2 L634.5,124.7 L635.1,125.3 L635.7,126.1 L636.2,126.9 L636.8,127.9 L637.4,129 L638,130.1 L638.5,131.3 L639,132.5 L639.5,133.6 L639.9,134.8 L640.3,135.9 L640.6,137 L640.9,138 L641.1,139.1 L641.3,140.2 L641.5,141.3 L641.6,142.4 L641.7,143.5 L641.8,144.6 L641.8,145.7 L641.7,146.7 L641.6,147.6 L641.4,148.5 L641.1,149.3 L640.8,150 L640.5,150.7 L640.1,151.3 L639.7,151.9 L639.3,152.5 L638.8,153 L638.2,153.4 L637.5,153.9 L636.6,154.3 L635.7,154.7 L634.6,155 L633.3,155.4 L631.8,155.7 L630.1,156 L628.2,156.2 L626.2,156.4 L624,156.6 L621.7,156.7 L619.4,156.9 L617.2,157 L614.9,157.2 L612.7,157.4 L610.6,157.6 L608.7,157.9 L606.9,158.2 L605,158.6 L603.2,159 L601.4,159.4 L599.6,159.8 L597.9,160.3 L596.2,160.7 L594.6,161.2 L593.1,161.6 L591.7,162 L590.3,162.4 L589.1,162.8 L588,163.2 L587,163.6 L586.1,164 L585.3,164.5 L584.6,164.9 L584,165.4 L583.3,165.7 L582.8,166.1 L582.2,166.3 L581.7,166.4 L581.1,166.5 L580.5,166.4 L579.9,166.2 L579.3,165.9 L578.7,165.5 L578.1,165 L577.5,164.4 L576.9,163.7 L576.4,163 L575.9,162.3 L575.4,161.5 L575,160.7 L574.7,159.9 L574.4,159.1 L574.2,158.2 L574,157.3 L573.9,156.3 L573.9,155.2 L573.8,154.1 L573.9,153 L573.9,151.8 L574,150.7 L574.1,149.6 L574.2,148.6 L574.3,147.7 L574.4,146.8 L574.4,146 L574.4,145.2 L574.3,144.5 L574.2,143.8 L574.1,143.1 L574.1,142.5 L574.1,141.9 L574.3,141.3 L574.6,140.8 L575.1,140.3 L575.8,139.8 L576.8,139.4 Z" fill="#C5E0B4" stroke="#000" stroke-width="1.8" stroke-linejoin="round" />
<text transform="translate(593.62,151.73) scale(0.884,1)" font-size="17.00" font-weight="bold" font-style="normal" fill="#000"  stroke="#000" stroke-width="0.55">Ras</text>
<path d="M601.3,193.4 L603.1,193.1 L605,192.8 L606.8,192.6 L608.8,192.4 L610.7,192.2 L612.6,192 L614.5,191.8 L616.3,191.6 L618.2,191.5 L620,191.3 L621.7,191.2 L623.4,191 L625,190.8 L626.7,190.7 L628.3,190.5 L629.9,190.3 L631.4,190.1 L632.9,189.9 L634.4,189.8 L635.8,189.7 L637.1,189.6 L638.4,189.6 L639.5,189.7 L640.6,189.8 L641.6,190 L642.5,190.2 L643.3,190.5 L644.1,190.8 L644.8,191.1 L645.4,191.5 L645.9,191.9 L646.4,192.4 L646.9,192.9 L647.3,193.5 L647.7,194.1 L648,194.7 L648.3,195.4 L648.5,196.2 L648.7,197.1 L648.8,198.1 L648.9,199.1 L648.9,200.1 L648.9,201.2 L648.8,202.2 L648.7,203.2 L648.5,204.1 L648.3,204.9 L648,205.7 L647.7,206.4 L647.4,207 L647.1,207.6 L646.8,208.2 L646.4,208.7 L646,209.2 L645.4,209.7 L644.8,210.1 L644,210.6 L643.1,211 L641.9,211.4 L640.6,211.8 L639,212.2 L637.1,212.5 L635,212.8 L632.7,213.1 L630.2,213.4 L627.7,213.6 L625.1,213.9 L622.6,214.2 L620.1,214.5 L617.8,214.8 L615.6,215.1 L613.6,215.5 L611.8,215.9 L610.1,216.4 L608.5,216.9 L606.9,217.5 L605.4,218.1 L604,218.6 L602.6,219.2 L601.3,219.8 L600,220.3 L598.8,220.8 L597.6,221.3 L596.4,221.7 L595.2,222.1 L594.1,222.5 L593.1,223 L592.1,223.4 L591.1,223.8 L590.2,224.2 L589.3,224.5 L588.4,224.8 L587.6,225 L586.8,225 L586.1,225 L585.4,224.8 L584.7,224.5 L584.1,224 L583.5,223.4 L582.9,222.6 L582.4,221.8 L581.9,221 L581.5,220 L581.1,219.1 L580.7,218.2 L580.4,217.2 L580.1,216.3 L579.8,215.5 L579.6,214.7 L579.4,213.9 L579.3,213 L579.2,212.2 L579.1,211.3 L579.1,210.5 L579.1,209.6 L579.2,208.8 L579.2,208 L579.2,207.2 L579.3,206.4 L579.3,205.7 L579.3,205 L579.2,204.3 L579,203.6 L578.8,203 L578.7,202.3 L578.6,201.7 L578.5,201.1 L578.6,200.5 L578.8,199.9 L579.1,199.4 L579.7,198.8 L580.5,198.3 L581.5,197.8 L582.8,197.3 L584.3,196.8 L585.9,196.4 L587.7,196 L589.6,195.5 L591.5,195.1 L593.5,194.8 L595.5,194.4 L597.5,194 L599.5,193.7 L601.3,193.4 Z" fill="#C5E0B4" stroke="#000" stroke-width="1.8" stroke-linejoin="round" />
<text transform="translate(600.85,209.43) scale(0.836,1)" font-size="17.43" font-weight="bold" font-style="normal" fill="#000"  stroke="#000" stroke-width="0.55">Ras</text>
<circle cx="636" cy="181" r="8.3" fill="#FFC000" stroke="#000" stroke-width="1.6"/>
<text transform="translate(631.33,184.15) scale(1.131,1)" font-size="14.53" font-weight="normal" font-style="normal" fill="#000" stroke="#000" stroke-width="0.6">p</text>
<path d="M708.5,199.2 C714,193 717,187 721,180 C725,173 730,170.5 735.2,170.5 C741,170.5 746,174 750,181 C754,188 757,194 762,199.2 C745,200.5 725,200.5 708.5,199.2 Z" fill="#DAE3F3" stroke="#000" stroke-width="1.8"/>
<text transform="translate(722.07,194.61) scale(0.768,1)" font-size="18.64" font-weight="bold" font-style="normal" fill="#000"  stroke="#000" stroke-width="0.55">Raf</text>
<path d="M809,140 L809.7,139.2 L810.5,138.5 L811.3,137.8 L812.1,137.2 L813,136.6 L813.9,136 L814.9,135.5 L815.8,135 L816.8,134.6 L817.9,134.2 L818.9,133.8 L820,133.5 L821.1,133.2 L822.3,133 L823.4,132.7 L824.7,132.6 L825.9,132.5 L827.2,132.4 L828.5,132.3 L829.8,132.3 L831.1,132.2 L832.4,132.2 L833.7,132.3 L835,132.3 L836.4,132.4 L837.8,132.4 L839.3,132.5 L840.9,132.7 L842.5,132.8 L844,133 L845.5,133.2 L846.9,133.4 L848.2,133.7 L849.4,133.9 L850.5,134.2 L851.3,134.5 L852,134.8 L852.4,135.1 L852.8,135.5 L853,135.8 L853.2,136.2 L853.2,136.6 L853.2,137 L853.1,137.5 L853,137.9 L852.9,138.5 L852.7,139 L852.6,139.6 L852.4,140.2 L852.1,141 L851.7,141.7 L851.3,142.5 L850.8,143.3 L850.3,144.2 L849.8,145.1 L849.4,145.9 L849,146.8 L848.7,147.7 L848.5,148.5 L848.4,149.3 L848.5,150.1 L848.7,150.9 L849.1,151.6 L849.6,152.4 L850.1,153.2 L850.6,153.9 L851.2,154.7 L851.7,155.5 L852.1,156.2 L852.4,157 L852.6,157.7 L852.6,158.5 L852.5,159.3 L852.3,160.1 L852,160.9 L851.7,161.7 L851.3,162.5 L850.8,163.3 L850.3,164.1 L849.7,164.9 L849,165.7 L848.2,166.4 L847.3,167.1 L846.4,167.7 L845.4,168.3 L844.2,169 L842.9,169.6 L841.5,170.2 L840.1,170.8 L838.5,171.3 L837,171.8 L835.4,172.3 L833.8,172.6 L832.3,173 L830.8,173.2 L829.3,173.3 L827.8,173.4 L826.3,173.4 L824.8,173.3 L823.2,173.2 L821.7,173 L820.1,172.8 L818.6,172.5 L817.1,172.1 L815.7,171.6 L814.4,171 L813.1,170.3 L812,169.5 L810.9,168.6 L809.9,167.4 L808.9,166.2 L808,164.8 L807.1,163.3 L806.3,161.8 L805.6,160.2 L805,158.6 L804.4,157.1 L804,155.6 L803.7,154.2 L803.5,152.9 L803.5,151.7 L803.5,150.5 L803.8,149.3 L804.1,148.1 L804.5,146.9 L805,145.8 L805.6,144.7 L806.2,143.7 L806.9,142.7 L807.6,141.7 L808.3,140.8 L809,140 Z" fill="#8FAADC" stroke="#000" stroke-width="1.8" stroke-linejoin="round" />
<text transform="translate(812.05,159.10) scale(0.724,1)" font-size="20.14" font-weight="bold" font-style="normal" fill="#000"  stroke="#000" stroke-width="0.55">MEK</text>
<path d="M907,138.5 L907.4,137.7 L907.8,137 L908.2,136.3 L908.7,135.7 L909.2,135.1 L909.8,134.5 L910.3,134 L910.9,133.6 L911.4,133.1 L911.9,132.7 L912.5,132.3 L913,132 L913.5,131.7 L914,131.4 L914.6,131.2 L915.1,131 L915.7,130.9 L916.2,130.8 L916.7,130.7 L917.3,130.6 L917.8,130.6 L918.3,130.6 L918.8,130.6 L919.2,130.7 L919.6,130.8 L920,130.9 L920.4,131 L920.8,131.2 L921.1,131.3 L921.5,131.5 L921.8,131.8 L922.2,132.1 L922.5,132.4 L922.8,132.8 L923.1,133.3 L923.4,133.8 L923.7,134.4 L924,135.3 L924.3,136.2 L924.6,137.2 L924.8,138.3 L925.1,139.4 L925.3,140.5 L925.6,141.4 L925.8,142.3 L926.1,143 L926.3,143.5 L926.5,143.7 L926.7,143.7 L926.9,143.4 L927,143 L927.1,142.4 L927.2,141.6 L927.3,140.8 L927.5,140 L927.6,139.1 L927.8,138.3 L928,137.5 L928.2,136.9 L928.5,136.4 L928.8,136 L929.2,135.6 L929.6,135.3 L930,135 L930.5,134.7 L930.9,134.5 L931.4,134.3 L932,134.1 L932.5,134 L933.1,133.9 L933.7,133.8 L934.3,133.8 L935,133.8 L935.7,133.9 L936.4,134 L937.2,134.1 L938,134.2 L938.9,134.4 L939.7,134.6 L940.5,134.9 L941.3,135.2 L942.1,135.6 L942.9,136 L943.6,136.4 L944.3,136.9 L945,137.5 L945.7,138.1 L946.4,138.7 L947.1,139.5 L947.7,140.2 L948.3,141 L948.9,141.7 L949.5,142.5 L950,143.3 L950.5,144 L950.9,144.7 L951.3,145.4 L951.6,146.1 L951.9,146.7 L952.2,147.4 L952.4,148.1 L952.6,148.7 L952.8,149.4 L952.9,150.1 L953,150.8 L953,151.5 L953,152.2 L952.9,153 L952.8,153.8 L952.6,154.7 L952.4,155.6 L952.1,156.5 L951.8,157.4 L951.4,158.3 L951,159.3 L950.6,160.2 L950.2,161 L949.7,161.9 L949.3,162.7 L948.8,163.4 L948.3,164.1 L947.8,164.7 L947.3,165.3 L946.7,165.9 L946.1,166.4 L945.5,166.9 L944.9,167.4 L944.3,167.9 L943.6,168.3 L942.9,168.8 L942.2,169.2 L941.5,169.6 L940.7,170 L939.9,170.4 L939.1,170.8 L938.3,171.2 L937.4,171.6 L936.5,171.9 L935.6,172.3 L934.7,172.6 L933.8,172.8 L932.9,173 L932,173.2 L931.1,173.3 L930.2,173.4 L929.4,173.4 L928.5,173.4 L927.6,173.3 L926.8,173.2 L925.9,173.1 L925,172.9 L924.2,172.7 L923.3,172.5 L922.5,172.2 L921.6,172 L920.8,171.7 L920,171.4 L919.1,171.1 L918.3,170.7 L917.4,170.3 L916.6,169.9 L915.8,169.4 L915,169 L914.2,168.5 L913.4,168 L912.7,167.5 L912,167 L911.4,166.5 L910.8,166 L910.2,165.4 L909.7,164.9 L909.2,164.3 L908.8,163.7 L908.3,163.1 L907.9,162.5 L907.5,161.9 L907.1,161.2 L906.8,160.6 L906.5,159.9 L906.2,159.3 L905.9,158.7 L905.7,158 L905.5,157.4 L905.3,156.8 L905.1,156.1 L904.9,155.5 L904.8,154.8 L904.7,154.1 L904.6,153.4 L904.6,152.6 L904.6,151.8 L904.6,151 L904.6,150.1 L904.7,149.1 L904.8,148 L905,146.9 L905.1,145.8 L905.3,144.6 L905.5,143.5 L905.8,142.4 L906.1,141.3 L906.3,140.3 L906.7,139.3 L907,138.5 Z" fill="#2F5597" stroke="#000" stroke-width="1.5" stroke-linejoin="round" />
<path d="M913.5,132.3 C917,130 921,129.8 923.4,133.8 C925,137 926,140 926.5,143.7" fill="none" stroke="#000" stroke-width="1.2"/>
<text transform="translate(912.54,165.00) scale(0.729,1)" font-size="20.29" font-weight="bold" font-style="normal" fill="#E8C840"  stroke="#E8C840" stroke-width="0.55">ERK</text>
<polygon points="469.2,353.6 478.7,332.8 528.2,332.8 538.1,353.6 527.7,374.3 480.6,374.3" fill="#C9A8E2" stroke="#000" stroke-width="1.9" stroke-linejoin="round"/>
<text transform="translate(486.63,360.91) scale(0.805,1)" font-size="18.59" font-weight="bold" font-style="normal" fill="#000"  stroke="#000" stroke-width="0.55">PI3K</text>
<path d="M600,383.3 C608,380.5 620,379.3 630,378.8 C642,378.3 652,377.5 659.3,377 L659.3,414.6 C653,412.5 643,410.2 631.2,410 C620,410 610,411.5 600.4,415 Z" fill="#7030A0" stroke="#000" stroke-width="1.9" stroke-linejoin="round"/>
<text transform="translate(616.82,404.41) scale(0.824,1)" font-size="18.50" font-weight="bold" font-style="normal" fill="#E8C840"  stroke="#E8C840" stroke-width="0.55">Akt</text>
<defs><radialGradient id="rg" cx="677" cy="293" r="14" gradientUnits="userSpaceOnUse"><stop offset="0" stop-color="#DAC231"/><stop offset="0.55" stop-color="#DAC231"/><stop offset="1" stop-color="#70AD47"/></radialGradient></defs>
<path d="M617.7,303.2 L618.7,302.7 L619.7,302.3 L620.8,302 L622,301.7 L623.3,301.4 L624.6,301.2 L625.9,301 L627.3,300.7 L628.8,300.5 L630.3,300.3 L631.8,300 L633.3,299.7 L634.9,299.4 L636.6,299 L638.4,298.6 L640.3,298.2 L642.2,297.9 L644.1,297.5 L646,297.1 L647.9,296.7 L649.7,296.3 L651.5,296 L653.1,295.7 L654.6,295.4 L656,295.1 L657.2,294.8 L658.4,294.5 L659.5,294.2 L660.5,293.9 L661.5,293.6 L662.4,293.4 L663.4,293.2 L664.3,293.1 L665.3,293.1 L666.3,293.1 L667.3,293.3 L668.4,293.6 L669.5,293.9 L670.7,294.4 L671.9,294.9 L673.1,295.5 L674.3,296.1 L675.5,296.8 L676.5,297.5 L677.6,298.2 L678.5,298.9 L679.3,299.7 L680,300.4 L680.6,301.1 L681.1,301.9 L681.5,302.7 L681.8,303.5 L682,304.4 L682.2,305.2 L682.3,306.1 L682.4,306.9 L682.4,307.8 L682.4,308.7 L682.3,309.5 L682.2,310.3 L682.1,311.1 L681.9,311.9 L681.7,312.7 L681.5,313.6 L681.2,314.4 L680.8,315.2 L680.4,316 L679.9,316.8 L679.4,317.5 L678.7,318.2 L678,318.9 L677.2,319.5 L676.3,320.1 L675.3,320.6 L674.2,321.1 L673,321.6 L671.7,322 L670.4,322.4 L669,322.8 L667.6,323.2 L666.1,323.5 L664.6,323.8 L663.1,324.2 L661.6,324.5 L660,324.8 L658.3,325.1 L656.5,325.3 L654.7,325.5 L652.8,325.7 L650.9,325.9 L649,326 L647.2,326.2 L645.3,326.4 L643.6,326.7 L641.9,327 L640.4,327.3 L638.9,327.7 L637.5,328.2 L636.2,328.7 L634.9,329.3 L633.6,329.8 L632.4,330.4 L631.3,331 L630.1,331.5 L629.1,332 L628.1,332.4 L627.1,332.8 L626.2,333 L625.4,333.2 L624.6,333.3 L623.9,333.3 L623.3,333.3 L622.7,333.3 L622.2,333.2 L621.7,333.1 L621.2,332.9 L620.7,332.6 L620.2,332.3 L619.7,331.9 L619.2,331.5 L618.7,331 L618.1,330.3 L617.6,329.6 L617.1,328.8 L616.6,328 L616,327.1 L615.6,326.2 L615.1,325.2 L614.6,324.3 L614.2,323.3 L613.8,322.5 L613.5,321.6 L613.2,320.8 L612.8,319.9 L612.5,319.1 L612.2,318.2 L611.9,317.4 L611.7,316.6 L611.5,315.7 L611.3,314.9 L611.2,314.1 L611.2,313.3 L611.3,312.5 L611.4,311.7 L611.6,310.9 L611.9,310.1 L612.2,309.4 L612.5,308.6 L613,307.8 L613.4,307.1 L614,306.3 L614.6,305.6 L615.3,304.9 L616,304.3 L616.8,303.7 L617.7,303.2 Z" fill="url(#rg)" stroke="#000" stroke-width="1.8" stroke-linejoin="round" />
<polyline points="667.3,293.3 671.5,289.1 675.1,272.1 678.6,286.2 690,284.8 684.3,292.6 691.4,299 680,300.4" fill="#DAC231" stroke="#000" stroke-width="1.5" stroke-linejoin="miter"/>
<text transform="translate(626.77,319.32) scale(0.787,1)" font-size="18.14" font-weight="bold" font-style="normal" fill="#000"  stroke="#000" stroke-width="0.55">Ras</text>
<text transform="translate(653.46,314.49) scale(0.772,1)" font-size="10.99" font-weight="bold" font-style="normal" fill="#000"  stroke="#000" stroke-width="0.55">G12V</text>
<line x1="745.6" y1="491.9" x2="936" y2="491.9" stroke="#000" stroke-width="2"/>
<polygon points="766.2,478.2 819.3,478.2 832.6,492.8 819.3,507.4 766.2,507.4" fill="#5B9BD5" stroke="#000" stroke-width="1.8" stroke-linejoin="round"/>
<text transform="translate(777.64,498.63) scale(0.848,1)" font-size="17.46" font-weight="bold" font-style="normal" fill="#000"  stroke="#000" stroke-width="0.55">FGF2</text>
<rect x="837" y="479.3" width="8.4" height="26.6" fill="#A5A5A5" stroke="#000" stroke-width="1.6"/>
<polygon points="848.5,477.8 910.5,477.8 922.9,492.6 910.5,507.4 848.5,507.4" fill="#70AD47" stroke="#000" stroke-width="1.8" stroke-linejoin="round"/>
<text transform="translate(853.83,498.64) scale(0.813,1)" font-size="16.43" font-weight="bold" font-style="normal" fill="#000"  stroke="#000" stroke-width="0.55">Ras</text>
<text transform="translate(880.00,493.38) scale(0.825,1)" font-size="11.97" font-weight="bold" font-style="normal" fill="#000"  stroke="#000" stroke-width="0.55">G12V</text>
<line x1="760.2" y1="470" x2="760.2" y2="491.9" stroke="#000" stroke-width="2"/>
<path d="M764.1,443.5 L764.1,422 A25.3,25.3 0 1,0 789.6,443.5 Z" fill="#FFF2CC" stroke="#000" stroke-width="1.9"/>
<text transform="translate(749.98,461.72) scale(0.891,1)" font-size="17.57" font-weight="normal" font-style="normal" fill="#000" stroke="#000" stroke-width="0.6">rtTA</text>
<line x1="782" y1="466.1" x2="800" y2="466.1" stroke="#000" stroke-width="2"/>
<polygon points="805.5,466.1 798.5,462.7 798.5,469.5" fill="#000"/>
<rect x="769.5" y="416.2" width="30.9" height="20.8" fill="#C00000" stroke="#000" stroke-width="1.5"/>
<text transform="translate(770.12,432.63) scale(0.867,1)" font-size="17.00" font-weight="normal" font-style="normal" fill="#fff"  stroke="#fff" stroke-width="0.30">Dox</text>
<path d="M565.2,154.7 L564,155.9 L562.9,157.2 L561.9,158.5 L560.8,159.8 L559.8,161.1 L558.8,162.5 L557.8,163.8 L556.8,165.3 L555.9,166.7 L555,168.2 L554.2,169.8 L553.5,171.4 L552.9,173 L552.4,174.7 L551.9,176.4 L551.5,178.2 L551.1,180 L550.8,181.8 L550.5,183.6 L550.3,185.4 L550.1,187.2 L550,188.9 L550,190.6 L550,192.3 L550.1,194 L550.4,195.6 L550.7,197.3 L551,198.8 L551.4,200.4 L551.9,201.8 L552.4,203.2 L552.9,204.6 L553.3,205.9 L553.8,207.1 L554.2,208.3 L554.7,209.4 L555.1,210.5 L555.5,211.6 L556,212.6 L556.5,213.5 L556.9,214.4 L557.3,215.2 L557.8,215.9 L558.2,216.7 L558.6,217.4 L559,218 L559.4,218.7 L559.8,219.5 L552.5,224.8 L573,229.9 L572.8,208.8 L566.7,215.6 L566.3,214.8 L565.8,214 L565.3,213.3 L564.8,212.6 L564.3,211.9 L563.9,211.2 L563.4,210.5 L563,209.8 L562.6,209.1 L562.2,208.3 L561.8,207.5 L561.3,206.6 L560.9,205.5 L560.3,204.4 L559.8,203.2 L559.2,202 L558.7,200.7 L558.1,199.5 L557.6,198.2 L557.2,196.9 L556.8,195.6 L556.4,194.3 L556.2,193 L556,191.7 L555.8,190.3 L555.8,188.8 L555.7,187.3 L555.7,185.7 L555.8,184 L555.9,182.3 L556,180.7 L556.2,179 L556.4,177.3 L556.7,175.7 L557.1,174.1 L557.5,172.6 L557.9,171.1 L558.4,169.7 L559,168.3 L559.7,166.9 L560.4,165.4 L561.2,164 L562,162.5 L562.8,161.1 L563.6,159.6 L564.4,158.1 L565.1,156.6 L565.6,154.9 Z" fill="#BFBFBF" stroke="#000" stroke-width="1.5" stroke-linejoin="miter" stroke-miterlimit="6"/>
<path d="M658.1,207 L659.2,205.8 L660.2,204.6 L661.2,203.3 L662.2,202 L663.1,200.7 L664.1,199.4 L665,198 L665.9,196.6 L666.7,195.2 L667.5,193.7 L668.3,192.2 L668.9,190.6 L669.5,189 L670.1,187.3 L670.6,185.6 L671,183.8 L671.4,182 L671.8,180.2 L672.1,178.4 L672.4,176.6 L672.6,174.9 L672.8,173.2 L672.9,171.5 L673,169.9 L673,168.4 L673,166.8 L672.9,165.3 L672.7,163.9 L672.5,162.5 L672.2,161.1 L672,159.8 L671.7,158.5 L671.4,157.3 L671,156.1 L670.7,155 L670.4,153.8 L670,152.7 L669.6,151.5 L669.2,150.5 L668.8,149.5 L668.4,148.6 L667.9,147.7 L667.5,146.8 L667.1,146 L666.6,145.2 L666.2,144.4 L665.9,143.7 L665.5,142.8 L673.3,138.3 L653.4,131.6 L651.6,152.5 L658.3,146.4 L658.8,147.2 L659.3,148.1 L659.8,149 L660.3,149.8 L660.8,150.6 L661.3,151.4 L661.7,152.1 L662.1,152.9 L662.5,153.7 L662.9,154.5 L663.3,155.3 L663.6,156.2 L664,157.2 L664.3,158.2 L664.7,159.3 L665.1,160.4 L665.4,161.6 L665.8,162.7 L666.1,163.9 L666.4,165 L666.6,166.3 L666.8,167.5 L666.9,168.8 L667,170.1 L667,171.5 L667.1,173 L667,174.5 L667,176.2 L666.9,177.9 L666.7,179.5 L666.5,181.3 L666.3,183 L666.1,184.6 L665.8,186.3 L665.4,187.9 L665.1,189.4 L664.6,190.9 L664.1,192.3 L663.6,193.7 L663,195.1 L662.3,196.5 L661.6,197.9 L660.9,199.3 L660.2,200.8 L659.4,202.2 L658.8,203.7 L658.1,205.2 L657.7,206.8 Z" fill="#BFBFBF" stroke="#000" stroke-width="1.5" stroke-linejoin="miter" stroke-miterlimit="6"/>
<path d="M646,227.7 L647.4,228.9 L648.8,229.8 L650.2,230.8 L651.7,231.8 L653.2,232.7 L654.7,233.7 L656.3,234.6 L657.9,235.4 L659.5,236.2 L661.2,236.9 L663,237.5 L664.7,237.9 L666.5,238.2 L668.2,238.4 L670,238.6 L671.8,238.6 L673.6,238.6 L675.4,238.5 L677.3,238.3 L679.1,238.1 L680.9,237.7 L682.7,237.3 L684.6,236.8 L686.4,236.2 L688.3,235.5 L690.1,234.6 L691.9,233.6 L693.6,232.6 L695.3,231.5 L697,230.3 L698.6,229.2 L700.2,228 L701.8,226.9 L703.4,225.8 L704.9,224.7 L706.5,223.7 L713.3,228 L713.1,207.3 L693.3,213.6 L701.3,216.3 L699.8,217.5 L698.2,218.8 L696.6,220.1 L695.1,221.4 L693.5,222.7 L692.1,224 L690.6,225.2 L689.2,226.3 L687.7,227.4 L686.3,228.3 L684.9,229.1 L683.6,229.8 L682.2,230.4 L680.7,231 L679.2,231.5 L677.7,231.9 L676.1,232.3 L674.6,232.6 L673,232.9 L671.5,233 L669.9,233.2 L668.4,233.2 L666.8,233.2 L665.3,233.1 L663.8,232.9 L662.4,232.7 L660.9,232.3 L659.3,231.8 L657.8,231.2 L656.2,230.6 L654.6,230 L653,229.3 L651.3,228.7 L649.7,228.1 L648,227.5 L646.2,227.3 Z" fill="#BFBFBF" stroke="#000" stroke-width="1.5" stroke-linejoin="miter" stroke-miterlimit="6"/>
<path d="M742.6,162.7 L743.9,161.5 L744.9,160.1 L745.8,158.6 L746.7,157.2 L747.6,155.7 L748.4,154.3 L749.3,152.9 L750.2,151.5 L751.1,150.2 L752,149 L752.9,147.9 L754,146.8 L755.1,145.7 L756.2,144.6 L757.4,143.6 L758.7,142.6 L759.9,141.6 L761.2,140.7 L762.5,139.9 L763.8,139.1 L765.1,138.4 L766.5,137.7 L767.9,137.2 L769.3,136.7 L770.7,136.3 L772.2,135.9 L773.8,135.7 L775.5,135.5 L777.3,135.4 L779.2,135.3 L781.1,135.2 L783,135.2 L785,135.1 L787.1,135 L789.1,134.9 L791,134.8 L788.4,142.7 L804.6,130.9 L790.4,116.8 L789.8,124.8 L787.9,125.2 L786.1,125.4 L784.3,125.7 L782.3,125.9 L780.4,126.2 L778.4,126.4 L776.4,126.7 L774.5,127.1 L772.5,127.5 L770.5,128 L768.6,128.6 L766.7,129.3 L764.9,130.2 L763.3,131.1 L761.7,132.1 L760.1,133.2 L758.6,134.3 L757.2,135.5 L755.9,136.7 L754.6,137.9 L753.4,139.2 L752.2,140.5 L751.1,141.9 L750,143.2 L749,144.7 L748.1,146.2 L747.2,147.8 L746.5,149.4 L745.8,151 L745.2,152.6 L744.6,154.3 L744,155.9 L743.5,157.5 L743,159.1 L742.5,160.8 L742.2,162.5 Z" fill="#BFBFBF" stroke="#000" stroke-width="1.5" stroke-linejoin="miter" stroke-miterlimit="6"/>
<path d="M830.7,184 L831.8,185.2 L833.1,186.4 L834.4,187.5 L835.7,188.6 L837,189.7 L838.3,190.8 L839.7,191.8 L841.1,192.9 L842.6,193.8 L844.1,194.7 L845.7,195.6 L847.3,196.3 L848.9,196.9 L850.5,197.4 L852.2,198 L853.9,198.4 L855.7,198.8 L857.4,199.1 L859.3,199.4 L861.1,199.6 L863,199.7 L864.8,199.7 L866.7,199.6 L868.7,199.4 L870.7,199.1 L872.7,198.6 L874.7,198 L876.6,197.3 L878.5,196.5 L880.5,195.7 L882.3,194.9 L884.2,194.1 L886,193.3 L887.8,192.5 L889.6,191.7 L891.4,191 L897.5,197.9 L901.2,177.1 L880.1,177.2 L887.8,182.8 L886,183.6 L884.1,184.6 L882.3,185.6 L880.5,186.6 L878.7,187.6 L876.9,188.6 L875.2,189.5 L873.5,190.3 L871.9,191 L870.3,191.7 L868.8,192.2 L867.3,192.6 L865.8,192.9 L864.2,193.1 L862.7,193.3 L861.1,193.3 L859.6,193.3 L858,193.3 L856.4,193.1 L854.9,193 L853.3,192.7 L851.8,192.4 L850.2,192.1 L848.7,191.7 L847.3,191.3 L845.8,190.8 L844.4,190.2 L843,189.5 L841.6,188.8 L840.1,188 L838.7,187.2 L837.2,186.4 L835.7,185.5 L834.2,184.7 L832.6,184 L830.9,183.5 Z" fill="#BFBFBF" stroke="#000" stroke-width="1.5" stroke-linejoin="miter" stroke-miterlimit="6"/>
<path d="M928.9,198 L929.1,200.7 L929.6,203.5 L930.2,206.2 L930.7,208.8 L931.3,211.5 L931.9,214.2 L932.5,216.8 L933.1,219.5 L933.6,222.2 L934.1,224.9 L934.5,227.6 L934.8,230.3 L935.1,233.1 L935.4,236 L935.6,239 L935.8,242 L936,245 L936.1,248 L936.2,250.9 L936.2,253.9 L936.1,256.7 L936.1,259.5 L935.9,262.2 L935.7,264.7 L935.5,267.2 L935.1,269.5 L934.7,271.8 L934.3,274.1 L933.8,276.3 L933.2,278.4 L932.7,280.6 L932,282.6 L931.4,284.7 L930.7,286.7 L930,288.7 L929.3,290.6 L928.6,292.5 L927.8,294.3 L927,296 L926.1,297.7 L925.2,299.4 L924.3,301.1 L923.3,302.8 L922.3,304.5 L921.3,306.2 L920.3,308 L919.3,309.8 L918.4,311.6 L912,308.2 L917.8,324.8 L933.6,317.1 L926.4,315.6 L927.3,313.8 L928.1,312.1 L929,310.4 L929.9,308.7 L930.8,306.9 L931.7,305.2 L932.6,303.3 L933.5,301.5 L934.4,299.5 L935.2,297.6 L936,295.5 L936.7,293.4 L937.4,291.2 L938,289.1 L938.6,287 L939.2,284.8 L939.8,282.5 L940.3,280.2 L940.8,277.9 L941.2,275.5 L941.6,273 L941.9,270.5 L942.1,267.9 L942.3,265.3 L942.3,262.5 L942.3,259.7 L942.3,256.7 L942.1,253.8 L941.9,250.7 L941.7,247.7 L941.4,244.6 L941,241.5 L940.6,238.5 L940.2,235.5 L939.7,232.6 L939.2,229.7 L938.6,226.9 L938,224.1 L937.3,221.4 L936.5,218.7 L935.7,216 L934.9,213.4 L934,210.8 L933.2,208.2 L932.3,205.6 L931.4,203 L930.4,200.4 L929.3,197.8 Z" fill="#BFBFBF" stroke="#000" stroke-width="1.5" stroke-linejoin="miter" stroke-miterlimit="6"/>
<path d="M499.6,246.6 L498.6,247.5 L497.6,248.3 L496.6,249 L495.6,249.8 L494.5,250.6 L493.5,251.3 L492.4,252.2 L491.4,253 L490.4,254 L489.4,255 L488.4,256.2 L487.5,257.4 L486.6,258.8 L485.7,260.2 L484.8,261.8 L483.9,263.5 L483.1,265.2 L482.3,266.9 L481.5,268.7 L480.8,270.5 L480.1,272.3 L479.4,274.1 L478.9,275.8 L478.4,277.5 L477.9,279.2 L477.6,280.8 L477.3,282.5 L477,284.2 L476.8,285.8 L476.7,287.5 L476.5,289.1 L476.5,290.7 L476.4,292.2 L476.4,293.7 L476.5,295.1 L476.5,296.6 L476.7,298 L476.8,299.4 L477.1,300.7 L477.4,302 L477.7,303.1 L478,304.3 L478.3,305.3 L478.7,306.3 L479,307.3 L479.2,308.2 L479.5,309.1 L479.8,310.1 L472.2,312.3 L490.4,323.3 L496,302.8 L489.2,306.9 L488.8,305.9 L488.3,304.8 L487.8,303.8 L487.3,302.8 L486.9,301.8 L486.4,300.9 L486,300 L485.6,299.2 L485.3,298.3 L485,297.4 L484.7,296.4 L484.5,295.4 L484.3,294.3 L484,293 L483.8,291.7 L483.7,290.3 L483.5,288.9 L483.4,287.5 L483.3,286 L483.3,284.5 L483.3,283 L483.4,281.5 L483.5,280 L483.6,278.5 L483.9,276.9 L484.2,275.3 L484.5,273.6 L484.9,271.8 L485.4,270 L485.9,268.2 L486.4,266.5 L487,264.7 L487.6,263.1 L488.2,261.5 L488.9,260 L489.5,258.6 L490.2,257.4 L491,256.2 L491.8,255.2 L492.6,254.2 L493.5,253.3 L494.4,252.4 L495.3,251.5 L496.2,250.6 L497.2,249.7 L498.1,248.9 L499.1,247.9 L500,247 Z" fill="#BFBFBF" stroke="#000" stroke-width="1.5" stroke-linejoin="miter" stroke-miterlimit="6"/>
<path d="M544.7,352.7 L546,352.6 L547.2,352.2 L548.3,351.7 L549.4,351.2 L550.5,350.8 L551.6,350.3 L552.6,349.9 L553.7,349.5 L554.8,349.1 L555.9,348.9 L557,348.7 L558.3,348.6 L559.6,348.5 L561.1,348.5 L562.6,348.5 L564.2,348.5 L565.8,348.6 L567.4,348.7 L569,348.9 L570.6,349.2 L572.2,349.6 L573.7,350 L575.3,350.5 L576.7,351.1 L578.2,351.8 L579.7,352.6 L581.2,353.6 L582.8,354.7 L584.4,356 L586.1,357.2 L587.7,358.6 L589.4,360 L591.2,361.4 L592.9,362.8 L594.7,364.2 L596.4,365.4 L590.1,368.9 L609.7,372.7 L606.3,353.1 L601.4,358 L599.6,356.9 L597.9,355.8 L596.2,354.6 L594.4,353.4 L592.6,352.1 L590.7,350.9 L588.9,349.7 L587,348.6 L585.1,347.5 L583.2,346.5 L581.2,345.7 L579.3,344.9 L577.3,344.4 L575.3,343.9 L573.4,343.6 L571.5,343.4 L569.6,343.3 L567.7,343.3 L565.9,343.4 L564.1,343.5 L562.4,343.7 L560.8,343.9 L559.2,344.1 L557.7,344.4 L556.3,344.8 L554.9,345.3 L553.6,345.8 L552.4,346.4 L551.3,347.1 L550.2,347.8 L549.2,348.5 L548.2,349.2 L547.3,349.9 L546.3,350.7 L545.4,351.4 L544.5,352.3 Z" fill="#BFBFBF" stroke="#000" stroke-width="1.5" stroke-linejoin="miter" stroke-miterlimit="6"/>
<path d="M679.5,388 L682,388.7 L684.4,389.1 L686.9,389.5 L689.4,389.9 L691.8,390.3 L694.3,390.7 L696.9,391 L699.4,391.3 L702,391.5 L704.7,391.7 L707.4,391.7 L710.2,391.7 L713,391.6 L715.8,391.4 L718.6,391.2 L721.5,390.9 L724.4,390.5 L727.3,390.1 L730.3,389.6 L733.3,389.1 L736.4,388.5 L739.5,387.8 L742.7,387 L746,386.2 L749.3,385.3 L752.8,384.3 L756.3,383.2 L759.8,382 L763.4,380.7 L767,379.4 L770.6,378.1 L774.3,376.8 L777.9,375.5 L781.5,374.1 L785,372.9 L788.6,371.6 L790.2,377.4 L799.8,361.9 L782,358.2 L785.4,363.2 L781.9,364.6 L778.4,366.1 L774.8,367.6 L771.2,369.1 L767.7,370.6 L764.1,372.1 L760.6,373.6 L757.2,375 L753.8,376.3 L750.4,377.6 L747.2,378.7 L744,379.8 L740.9,380.7 L737.9,381.6 L734.9,382.5 L732,383.2 L729.1,383.9 L726.2,384.6 L723.4,385.2 L720.7,385.7 L717.9,386.2 L715.2,386.6 L712.5,387 L709.8,387.3 L707.2,387.5 L704.6,387.7 L702.1,387.8 L699.6,387.8 L697.1,387.7 L694.6,387.6 L692.1,387.5 L689.6,387.4 L687.1,387.3 L684.6,387.3 L682.1,387.3 L679.5,387.6 Z" fill="#BFBFBF" stroke="#000" stroke-width="1.5" stroke-linejoin="miter" stroke-miterlimit="6"/>
<path d="M374.9,248.8 L376.4,248 L377.8,247.1 L379.2,246.1 L380.7,245.1 L382.1,244.1 L383.5,243.1 L384.9,242.1 L386.2,241.2 L387.6,240.2 L388.8,239.2 L390.1,238.3 L391.2,237.3 L392.3,236.5 L393.3,235.6 L394.4,234.8 L395.3,233.9 L396.3,233.1 L397.2,232.3 L398.1,231.5 L399,230.7 L399.8,229.9 L400.5,229.1 L401.3,228.2 L402,227.3 L402.6,226.5 L403.2,225.6 L403.7,224.7 L404.1,223.9 L404.4,223 L404.7,222.2 L405,221.5 L405.3,220.8 L405.5,220.1 L405.8,219.4 L406,218.8 L406.4,218 L401.2,216 L401,216.7 L400.7,217.6 L400.5,218.4 L400.2,219.2 L400,219.9 L399.8,220.6 L399.6,221.3 L399.4,222 L399.1,222.7 L398.8,223.3 L398.4,224 L398,224.7 L397.5,225.4 L397,226.1 L396.3,226.9 L395.7,227.6 L395,228.4 L394.2,229.2 L393.4,230.1 L392.6,230.9 L391.7,231.8 L390.8,232.7 L389.8,233.7 L388.8,234.7 L387.8,235.7 L386.7,236.7 L385.5,237.8 L384.3,238.9 L383.1,240 L381.9,241.1 L380.6,242.3 L379.3,243.5 L378.1,244.7 L376.8,245.9 L375.6,247.1 L374.5,248.4 Z" fill="#BFBFBF" stroke="none"/><path d="M401.2,216 L401,216.7 L400.7,217.6 L400.5,218.4 L400.2,219.2 L400,219.9 L399.8,220.6 L399.6,221.3 L399.4,222 L399.1,222.7 L398.8,223.3 L398.4,224 L398,224.7 L397.5,225.4 L397,226.1 L396.3,226.9 L395.7,227.6 L395,228.4 L394.2,229.2 L393.4,230.1 L392.6,230.9 L391.7,231.8 L390.8,232.7 L389.8,233.7 L388.8,234.7 L387.8,235.7 L386.7,236.7 L385.5,237.8 L384.3,238.9 L383.1,240 L381.9,241.1 L380.6,242.3 L379.3,243.5 L378.1,244.7 L376.8,245.9 L375.6,247.1 L374.5,248.4 L374.9,248.8 L376.4,248 L377.8,247.1 L379.2,246.1 L380.7,245.1 L382.1,244.1 L383.5,243.1 L384.9,242.1 L386.2,241.2 L387.6,240.2 L388.8,239.2 L390.1,238.3 L391.2,237.3 L392.3,236.5 L393.3,235.6 L394.4,234.8 L395.3,233.9 L396.3,233.1 L397.2,232.3 L398.1,231.5 L399,230.7 L399.8,229.9 L400.5,229.1 L401.3,228.2 L402,227.3 L402.6,226.5 L403.2,225.6 L403.7,224.7 L404.1,223.9 L404.4,223 L404.7,222.2 L405,221.5 L405.3,220.8 L405.5,220.1 L405.8,219.4 L406,218.8 L406.4,218" fill="none" stroke="#000" stroke-width="1.5" stroke-linejoin="miter" stroke-miterlimit="6"/>
<path d="M412.2,196 L412.2,195.2 L412.2,194.5 L412.2,193.8 L412.2,193 L412.2,192.2 L412.2,191.5 L412.2,190.8 L412.2,190 L412.2,189.2 L412.2,188.5 L412.2,187.8 L412.2,187 L418.2,188 L407.2,168 L396.2,188 L402.2,187 L402.2,187.8 L402.2,188.5 L402.2,189.2 L402.2,190 L402.2,190.8 L402.2,191.5 L402.2,192.2 L402.2,193 L402.2,193.8 L402.2,194.5 L402.2,195.2 L402.2,196 Z" fill="#BFBFBF" stroke="none"/><path d="M412.2,196 L412.2,195.2 L412.2,194.5 L412.2,193.8 L412.2,193 L412.2,192.2 L412.2,191.5 L412.2,190.8 L412.2,190 L412.2,189.2 L412.2,188.5 L412.2,187.8 L412.2,187 L418.2,188 L407.2,168 L396.2,188 L402.2,187 L402.2,187.8 L402.2,188.5 L402.2,189.2 L402.2,190 L402.2,190.8 L402.2,191.5 L402.2,192.2 L402.2,193 L402.2,193.8 L402.2,194.5 L402.2,195.2 L402.2,196" fill="none" stroke="#000" stroke-width="1.5" stroke-linejoin="miter" stroke-miterlimit="6"/>
<text transform="translate(397.38,213.70) scale(0.808,1)" font-size="19.14" font-weight="normal" font-style="normal" fill="#8E93A3"  stroke="#8E93A3" stroke-width="0.30">??</text>
<path d="M392.2,426.9 L392.1,424.3 L391.6,421.7 L391.1,419.1 L390.5,416.5 L389.8,414 L389.2,411.4 L388.6,408.9 L388,406.4 L387.4,404 L386.8,401.6 L386.3,399.4 L385.8,397.2 L385.3,395 L384.9,392.8 L384.5,390.7 L384.1,388.7 L383.7,386.6 L383.4,384.7 L383,382.7 L382.8,380.9 L382.5,379.1 L382.3,377.4 L382,375.8 L381.9,374.4 L381.8,373.1 L381.7,371.9 L381.6,370.8 L381.6,369.8 L381.7,368.9 L381.7,367.9 L381.8,367 L381.8,366.1 L381.9,365.1 L381.9,364 L382,362.9 L382,361.9 L372,362.1 L372.1,363.2 L372.1,364.1 L372.1,364.9 L372.2,365.8 L372.2,366.8 L372.2,367.8 L372.3,368.9 L372.3,370 L372.4,371.3 L372.6,372.6 L372.8,374.1 L373.1,375.6 L373.5,377.3 L373.8,378.9 L374.3,380.7 L374.7,382.5 L375.2,384.4 L375.7,386.3 L376.3,388.3 L376.9,390.4 L377.5,392.5 L378.2,394.6 L378.9,396.7 L379.6,398.8 L380.4,401.1 L381.2,403.3 L382.1,405.6 L383,408 L384,410.4 L385,412.8 L386,415.3 L387,417.7 L388.1,420.1 L389.2,422.5 L390.3,424.9 L391.8,427.1 Z" fill="#BFBFBF" stroke="none"/><path d="M372,362.1 L372.1,363.2 L372.1,364.1 L372.1,364.9 L372.2,365.8 L372.2,366.8 L372.2,367.8 L372.3,368.9 L372.3,370 L372.4,371.3 L372.6,372.6 L372.8,374.1 L373.1,375.6 L373.5,377.3 L373.8,378.9 L374.3,380.7 L374.7,382.5 L375.2,384.4 L375.7,386.3 L376.3,388.3 L376.9,390.4 L377.5,392.5 L378.2,394.6 L378.9,396.7 L379.6,398.8 L380.4,401.1 L381.2,403.3 L382.1,405.6 L383,408 L384,410.4 L385,412.8 L386,415.3 L387,417.7 L388.1,420.1 L389.2,422.5 L390.3,424.9 L391.8,427.1 L392.2,426.9 L392.1,424.3 L391.6,421.7 L391.1,419.1 L390.5,416.5 L389.8,414 L389.2,411.4 L388.6,408.9 L388,406.4 L387.4,404 L386.8,401.6 L386.3,399.4 L385.8,397.2 L385.3,395 L384.9,392.8 L384.5,390.7 L384.1,388.7 L383.7,386.6 L383.4,384.7 L383,382.7 L382.8,380.9 L382.5,379.1 L382.3,377.4 L382,375.8 L381.9,374.4 L381.8,373.1 L381.7,371.9 L381.6,370.8 L381.6,369.8 L381.7,368.9 L381.7,367.9 L381.8,367 L381.8,366.1 L381.9,365.1 L381.9,364 L382,362.9 L382,361.9" fill="none" stroke="#000" stroke-width="1.5" stroke-linejoin="miter" stroke-miterlimit="6"/>
<path d="M383.5,339.2 L383.6,338.2 L383.6,337.3 L383.6,336.4 L383.7,335.4 L383.7,334.6 L383.7,333.7 L383.8,332.8 L383.8,332 L383.9,331.2 L383.9,330.4 L384,329.6 L384.1,328.8 L384.2,328 L384.4,327.2 L384.5,326.3 L384.7,325.4 L385,324.5 L385.2,323.6 L385.4,322.7 L385.7,321.7 L385.9,320.7 L386.1,319.7 L386.4,318.7 L386.6,317.8 L391.6,319.6 L384.1,300.8 L370,315.3 L375.4,315.2 L375.2,316.2 L375,317.1 L374.8,318 L374.5,319 L374.3,320 L374.1,320.9 L373.8,321.9 L373.6,323 L373.4,324 L373.2,325 L373.1,326.1 L372.9,327.2 L372.8,328.3 L372.7,329.3 L372.6,330.4 L372.6,331.4 L372.5,332.4 L372.5,333.4 L372.5,334.3 L372.5,335.3 L372.5,336.2 L372.5,337.1 L372.5,337.9 L372.5,338.8 Z" fill="#BFBFBF" stroke="none"/><path d="M383.5,339.2 L383.6,338.2 L383.6,337.3 L383.6,336.4 L383.7,335.4 L383.7,334.6 L383.7,333.7 L383.8,332.8 L383.8,332 L383.9,331.2 L383.9,330.4 L384,329.6 L384.1,328.8 L384.2,328 L384.4,327.2 L384.5,326.3 L384.7,325.4 L385,324.5 L385.2,323.6 L385.4,322.7 L385.7,321.7 L385.9,320.7 L386.1,319.7 L386.4,318.7 L386.6,317.8 L391.6,319.6 L384.1,300.8 L370,315.3 L375.4,315.2 L375.2,316.2 L375,317.1 L374.8,318 L374.5,319 L374.3,320 L374.1,320.9 L373.8,321.9 L373.6,323 L373.4,324 L373.2,325 L373.1,326.1 L372.9,327.2 L372.8,328.3 L372.7,329.3 L372.6,330.4 L372.6,331.4 L372.5,332.4 L372.5,333.4 L372.5,334.3 L372.5,335.3 L372.5,336.2 L372.5,337.1 L372.5,337.9 L372.5,338.8" fill="none" stroke="#000" stroke-width="1.5" stroke-linejoin="miter" stroke-miterlimit="6"/>
<text transform="translate(370.04,357.10) scale(0.876,1)" font-size="18.86" font-weight="normal" font-style="normal" fill="#8E93A3"  stroke="#8E93A3" stroke-width="0.30">??</text>
<path d="M757.7,501.6 L754.9,501.7 L752.1,502.1 L749.4,502.5 L746.7,502.9 L744,503.3 L741.2,503.7 L738.5,504.2 L735.8,504.6 L733.1,505 L730.3,505.4 L727.5,505.8 L724.7,506.2 L721.9,506.6 L719.1,506.9 L716.2,507.3 L713.4,507.6 L710.5,507.9 L707.7,508.2 L704.8,508.5 L701.8,508.8 L698.9,509.1 L695.9,509.3 L692.8,509.6 L689.8,509.8 L686.6,510.1 L683.3,510.3 L680,510.5 L676.6,510.7 L673.2,510.9 L669.8,511 L666.4,511.2 L663,511.3 L659.6,511.4 L656.3,511.5 L653.1,511.5 L649.9,511.5 L647,511.5 L644.2,511.5 L641.5,511.5 L638.9,511.4 L636.4,511.3 L633.9,511.2 L631.3,511.1 L628.6,510.9 L625.6,510.7 L622.5,510.4 L619.1,510.1 L615.3,509.8 L611.2,509.4 L606.7,509 L601.9,508.5 L596.8,508 L591.7,507.5 L586.4,507 L581,506.4 L575.7,505.7 L570.5,505 L565.4,504.3 L560.5,503.5 L555.9,502.7 L551.4,501.7 L547,500.7 L542.5,499.7 L538.1,498.5 L533.8,497.3 L529.5,496.1 L525.4,494.8 L521.3,493.6 L517.4,492.3 L513.7,491.1 L510.2,489.9 L506.9,488.7 L503.9,487.6 L501.2,486.5 L498.7,485.4 L496.3,484.4 L494.1,483.3 L492,482.2 L489.9,481.1 L487.8,480 L485.7,478.8 L483.5,477.7 L481.2,476.5 L478.9,475.4 L480.9,466.9 L464.3,477.7 L473.6,495.2 L473.7,486.2 L476.1,487.3 L478.2,488.3 L480.3,489.4 L482.4,490.4 L484.5,491.5 L486.7,492.6 L489,493.7 L491.4,494.8 L494,495.9 L496.8,497 L499.8,498.2 L503.1,499.3 L506.6,500.4 L510.3,501.6 L514.1,502.7 L518.1,503.9 L522.3,505.1 L526.6,506.3 L531,507.4 L535.5,508.5 L540.1,509.6 L544.7,510.6 L549.4,511.5 L554.1,512.3 L558.9,513.1 L564,513.8 L569.3,514.4 L574.6,514.9 L580.1,515.4 L585.5,515.9 L590.9,516.3 L596.1,516.7 L601.2,517 L606,517.3 L610.5,517.6 L614.7,517.8 L618.5,518.1 L621.9,518.3 L625.1,518.4 L628.1,518.5 L630.9,518.6 L633.6,518.7 L636.2,518.7 L638.8,518.7 L641.5,518.7 L644.2,518.6 L647,518.6 L650.1,518.5 L653.3,518.3 L656.5,518.2 L659.9,518 L663.3,517.7 L666.7,517.5 L670.2,517.2 L673.6,516.9 L677.1,516.6 L680.5,516.2 L683.8,515.9 L687.1,515.5 L690.2,515.2 L693.4,514.8 L696.4,514.4 L699.4,514 L702.4,513.6 L705.3,513.2 L708.2,512.7 L711.1,512.3 L714,511.8 L716.8,511.3 L719.6,510.8 L722.5,510.3 L725.3,509.8 L728.1,509.3 L730.9,508.7 L733.6,508.1 L736.3,507.5 L739,506.9 L741.7,506.3 L744.4,505.6 L747.1,505 L749.8,504.3 L752.4,503.6 L755.1,502.9 L757.7,502 Z" fill="#FF0000" stroke="#000" stroke-width="1.5" stroke-linejoin="miter" stroke-miterlimit="6"/>
<path d="M876.2,467.9 L875.8,465.8 L875.4,463.8 L874.9,461.7 L874.5,459.7 L874,457.6 L873.6,455.5 L873,453.4 L872.4,451.3 L871.6,449.3 L870.7,447.2 L869.6,445.1 L868.3,443 L866.9,441 L865.3,439 L863.6,437 L861.8,435 L859.8,433 L857.8,431.1 L855.7,429.2 L853.6,427.3 L851.3,425.4 L849.1,423.5 L846.8,421.7 L844.5,419.9 L842,418.1 L839.4,416.3 L836.8,414.6 L834,412.9 L831.2,411.2 L828.4,409.5 L825.6,407.9 L822.8,406.3 L820.1,404.7 L817.5,403.1 L815.1,401.6 L812.8,400.2 L810.7,398.8 L808.8,397.4 L807,396.2 L805.3,394.9 L803.7,393.6 L802,392.4 L800.4,391.1 L798.6,389.8 L796.7,388.5 L794.6,387.1 L792.4,385.6 L789.9,384.1 L787.1,382.6 L784.2,380.9 L781,379.2 L777.8,377.4 L774.4,375.7 L770.9,373.9 L767.4,372.1 L764,370.3 L760.5,368.6 L757.2,367 L754,365.4 L750.9,363.9 L748,362.4 L745.1,361.1 L742.2,359.8 L739.5,358.5 L736.7,357.3 L734.1,356.2 L731.5,355 L728.9,353.9 L726.4,352.8 L724,351.7 L721.6,350.6 L719.2,349.4 L716.9,348.3 L714.6,347.1 L712.4,345.9 L710.2,344.8 L708.1,343.6 L706,342.5 L703.9,341.3 L701.8,340.2 L699.7,339 L697.6,337.9 L695.4,336.7 L693.2,335.5 L701.7,332 L681.3,329.7 L681,350.3 L688.2,345.3 L690.3,346.4 L692.5,347.5 L694.6,348.6 L696.7,349.7 L698.9,350.8 L701,351.9 L703.2,353 L705.4,354.1 L707.7,355.2 L710,356.3 L712.3,357.5 L714.8,358.6 L717.3,359.7 L719.9,360.8 L722.4,361.9 L725,363 L727.7,364 L730.3,365.1 L733,366.2 L735.7,367.3 L738.5,368.4 L741.3,369.6 L744.2,370.8 L747.1,372.1 L750.1,373.5 L753.4,375 L756.7,376.5 L760.2,378.1 L763.7,379.8 L767.2,381.4 L770.7,383.1 L774.1,384.7 L777.4,386.4 L780.5,387.9 L783.4,389.4 L786.1,390.9 L788.5,392.2 L790.7,393.5 L792.6,394.7 L794.5,395.9 L796.2,397 L797.8,398.2 L799.5,399.4 L801.2,400.6 L803,401.8 L804.9,403.1 L806.9,404.4 L809.2,405.8 L811.7,407.3 L814.3,408.7 L817,410.2 L819.8,411.7 L822.6,413.2 L825.5,414.7 L828.4,416.2 L831.2,417.8 L833.9,419.3 L836.6,420.9 L839.1,422.5 L841.5,424.1 L843.9,425.7 L846.2,427.4 L848.5,429.1 L850.7,430.8 L852.9,432.5 L855,434.3 L857.1,436 L859,437.8 L860.9,439.6 L862.6,441.4 L864.2,443.2 L865.7,445 L867,446.8 L868.1,448.6 L869,450.5 L869.9,452.4 L870.6,454.3 L871.3,456.2 L872,458.2 L872.6,460.2 L873.3,462.2 L874,464.2 L874.8,466.2 L875.8,468.1 Z" fill="#FF0000" stroke="#000" stroke-width="1.5" stroke-linejoin="miter" stroke-miterlimit="6"/>
<path d="M708.9,296.6 L710.8,295.7 L712.5,294.5 L714.3,293.4 L716.1,292.2 L717.8,291 L719.6,289.7 L721.3,288.5 L723,287.2 L724.6,285.9 L726.2,284.5 L727.7,283.1 L729.1,281.7 L730.4,280.2 L731.6,278.8 L732.8,277.3 L733.9,275.8 L734.9,274.2 L735.9,272.7 L736.8,271.1 L737.6,269.6 L738.5,268 L739.2,266.4 L739.9,264.8 L740.6,263.2 L741.2,261.4 L741.8,259.6 L742.3,257.8 L742.7,256 L743.1,254.2 L743.4,252.5 L743.6,250.7 L743.9,249.1 L744.1,247.5 L744.3,246 L744.5,244.6 L744.6,243.3 L744.7,242.1 L744.8,240.9 L744.9,239.8 L744.9,238.8 L744.8,237.9 L744.8,237.1 L744.7,236.3 L744.6,235.7 L744.6,235.1 L744.5,234.5 L744.5,233.9 L744.5,233.2 L750.9,233.5 L737.8,214.9 L728.2,235.5 L734.5,233.8 L734.6,234.6 L734.7,235.5 L734.8,236.3 L734.9,237 L735.1,237.6 L735.2,238.2 L735.3,238.8 L735.3,239.5 L735.4,240.1 L735.4,240.9 L735.4,241.7 L735.4,242.7 L735.3,243.9 L735.3,245.3 L735.2,246.7 L735.1,248.3 L735.1,249.9 L734.9,251.5 L734.8,253.1 L734.6,254.7 L734.4,256.3 L734.1,257.9 L733.8,259.4 L733.4,260.8 L733,262.3 L732.5,263.7 L731.9,265.2 L731.3,266.7 L730.7,268.2 L730,269.6 L729.3,271.1 L728.5,272.5 L727.7,274 L726.8,275.4 L725.9,276.9 L724.9,278.3 L723.8,279.7 L722.6,281.1 L721.4,282.5 L720,284 L718.6,285.4 L717.1,286.9 L715.6,288.3 L714.1,289.8 L712.6,291.3 L711.1,292.8 L709.7,294.4 L708.5,296.2 Z" fill="#FF0000" stroke="#000" stroke-width="1.5" stroke-linejoin="miter" stroke-miterlimit="6"/>
<path d="M608.4,298.7 L607.5,297.5 L606.7,296.2 L605.8,295 L604.9,293.7 L604,292.5 L603.1,291.2 L602.1,290 L601.2,288.7 L600.1,287.5 L599,286.4 L597.9,285.2 L596.7,284.1 L595.4,283.1 L594.1,282.1 L592.7,281.1 L591.3,280.1 L589.8,279.2 L588.3,278.2 L586.8,277.4 L585.2,276.5 L583.6,275.7 L581.9,274.9 L580.2,274.2 L578.5,273.5 L576.7,272.9 L574.8,272.3 L572.8,271.8 L570.8,271.3 L568.7,270.8 L566.7,270.4 L564.6,270 L562.6,269.7 L560.7,269.4 L558.8,269.1 L557,268.8 L555.2,268.5 L553.6,268.3 L552.1,268.1 L550.6,268 L549.2,267.8 L547.8,267.8 L546.5,267.7 L545.2,267.6 L543.9,267.6 L542.7,267.6 L541.4,267.5 L540.1,267.4 L538.8,267.4 L538.6,271.8 L539.9,271.9 L541.3,271.9 L542.6,271.9 L543.8,271.9 L545.1,271.9 L546.4,272 L547.7,272 L549,272 L550.3,272.1 L551.7,272.2 L553.2,272.3 L554.8,272.5 L556.4,272.7 L558.2,272.9 L560.1,273.1 L562.1,273.4 L564.1,273.6 L566.1,273.9 L568.1,274.3 L570.1,274.6 L572.1,275 L574,275.5 L575.8,276 L577.5,276.5 L579.2,277.1 L580.8,277.7 L582.4,278.4 L584,279.1 L585.5,279.8 L587,280.6 L588.5,281.4 L590,282.2 L591.4,283.1 L592.7,284 L594.1,284.9 L595.3,285.9 L596.5,286.8 L597.7,287.8 L598.8,288.9 L599.8,290 L600.8,291.1 L601.8,292.2 L602.8,293.4 L603.8,294.5 L604.8,295.7 L605.8,296.9 L606.9,298 L608,299.1 Z" fill="#FF0000" stroke="#000" stroke-width="1.5" stroke-linejoin="miter" stroke-miterlimit="6"/>
<path d="M514,268.3 L511.9,268 L509.9,267.9 L507.9,267.8 L505.9,267.8 L503.9,267.7 L501.9,267.7 L499.9,267.6 L497.9,267.6 L495.9,267.5 L493.9,267.5 L491.9,267.4 L490,267.4 L488,267.4 L486.1,267.3 L484.2,267.3 L482.3,267.3 L480.5,267.2 L478.6,267.2 L476.7,267.2 L474.8,267.1 L472.9,267.1 L471,267.1 L469,267 L466.9,267 L464.8,266.9 L462.6,266.8 L460.4,266.7 L458.1,266.7 L455.8,266.6 L453.5,266.5 L451.2,266.4 L448.9,266.3 L446.6,266.2 L444.4,266.1 L442.2,266 L440.1,266 L438.1,265.9 L436.1,265.8 L434.2,265.7 L432.2,265.6 L430.3,265.4 L428.5,265.3 L426.6,265.2 L424.7,265.1 L422.9,265 L421,264.9 L419.1,264.8 L417.2,264.7 L421.4,258.7 L405,266.7 L414.5,282.3 L416.8,275.7 L418.7,275.7 L420.6,275.8 L422.5,275.8 L424.3,275.8 L426.2,275.9 L428.1,275.9 L429.9,275.9 L431.9,276 L433.8,276 L435.8,276 L437.8,276 L439.9,276 L442,276.1 L444.2,276.1 L446.4,276.1 L448.7,276 L451,276 L453.4,276 L455.7,276 L458,276 L460.3,276 L462.5,275.9 L464.7,275.9 L466.9,275.8 L468.9,275.8 L471,275.7 L472.9,275.7 L474.9,275.6 L476.8,275.6 L478.7,275.5 L480.6,275.4 L482.4,275.3 L484.3,275.3 L486.2,275.2 L488.1,275.1 L490,275 L492,274.9 L494,274.8 L496,274.7 L498,274.6 L500,274.5 L502,274.4 L504,274.2 L506,274.1 L508,274 L510,273.8 L512,273.6 L514,273.3 Z" fill="#FF0000" stroke="#000" stroke-width="1.5" stroke-linejoin="miter" stroke-miterlimit="6"/>
<text transform="translate(517.02,278.50) scale(0.903,1)" font-size="18.71" font-weight="normal" font-style="normal" fill="#FF0000"  stroke="#FF0000" stroke-width="0.30">??</text>
<path d="M368.6,244.2 L370,243 L371.3,241.7 L372.5,240.3 L373.7,238.9 L374.9,237.5 L376,236.1 L377.2,234.6 L378.3,233.2 L379.4,231.7 L380.4,230.2 L381.4,228.6 L382.3,227.1 L383.2,225.5 L384,223.9 L384.7,222.3 L385.4,220.7 L386.1,219.1 L386.7,217.5 L387.3,215.9 L387.8,214.3 L388.3,212.7 L388.7,211.2 L389.1,209.6 L389.5,208.1 L389.8,206.5 L390.1,205 L390.3,203.5 L390.5,202 L390.6,200.5 L390.7,199.1 L390.7,197.7 L390.7,196.3 L390.7,195.1 L390.7,193.9 L390.7,192.8 L390.7,191.7 L390.6,190.5 L390.5,189.5 L390.4,188.6 L390.3,187.7 L390.1,186.9 L389.9,186.2 L389.8,185.6 L389.6,185 L389.5,184.5 L389.3,184 L389.2,183.5 L389.1,182.9 L396.3,180.9 L379.6,170.1 L373.3,189 L379.9,185.1 L380.1,185.8 L380.3,186.5 L380.5,187.2 L380.8,187.8 L381,188.4 L381.1,188.9 L381.3,189.4 L381.5,189.9 L381.6,190.4 L381.7,190.9 L381.8,191.6 L381.9,192.3 L382,193.3 L382.1,194.4 L382.2,195.5 L382.3,196.7 L382.4,197.9 L382.5,199.1 L382.6,200.4 L382.6,201.7 L382.6,203 L382.5,204.3 L382.4,205.6 L382.3,206.9 L382.1,208.2 L381.9,209.7 L381.6,211.1 L381.3,212.6 L381,214.1 L380.6,215.7 L380.2,217.2 L379.8,218.8 L379.3,220.3 L378.8,221.9 L378.2,223.4 L377.7,224.9 L377,226.4 L376.3,227.9 L375.6,229.4 L374.8,231 L373.9,232.5 L373.1,234.1 L372.2,235.7 L371.3,237.2 L370.4,238.9 L369.5,240.5 L368.7,242.2 L368.2,244 Z" fill="#FF0000" stroke="#000" stroke-width="1.5" stroke-linejoin="miter" stroke-miterlimit="6"/>
<path d="M382.7,427.9 L383,425.3 L382.4,423.2 L381.8,421 L381,419 L380.3,416.9 L379.5,414.8 L378.7,412.7 L377.9,410.7 L377.1,408.6 L376.2,406.5 L375.4,404.4 L374.5,402.3 L373.5,400.1 L372.5,397.9 L371.4,395.7 L370.4,393.6 L369.3,391.5 L368.3,389.4 L367.2,387.3 L366.3,385.2 L365.4,383.1 L364.5,381 L363.8,379 L363.1,376.9 L362.5,374.6 L361.9,372.4 L361.4,370.1 L360.9,367.7 L360.5,365.4 L360.1,363 L359.8,360.6 L359.5,358.2 L359.2,355.8 L359,353.4 L358.9,351 L358.8,348.7 L358.7,346.5 L358.8,344.3 L358.9,342 L359.1,339.7 L359.3,337.3 L359.5,335 L359.8,332.6 L360.1,330.1 L360.4,327.7 L360.7,325.2 L361,322.6 L361.2,320.2 L367.2,322.7 L356.7,305 L341.5,318.8 L347.8,319.3 L347.7,321.7 L347.5,324.1 L347.3,326.4 L347.2,328.8 L347,331.3 L346.8,333.8 L346.6,336.3 L346.5,338.8 L346.5,341.4 L346.5,344 L346.6,346.6 L346.7,349.3 L347,351.9 L347.3,354.5 L347.7,357.1 L348.1,359.7 L348.6,362.3 L349.1,364.9 L349.7,367.5 L350.3,370 L351,372.6 L351.7,375.1 L352.5,377.5 L353.4,379.9 L354.3,382.4 L355.4,384.8 L356.5,387.1 L357.7,389.3 L359,391.5 L360.2,393.7 L361.5,395.8 L362.8,397.8 L364,399.9 L365.3,401.8 L366.4,403.8 L367.5,405.7 L368.6,407.7 L369.7,409.7 L370.8,411.6 L371.9,413.6 L373,415.5 L374.1,417.4 L375.2,419.3 L376.4,421.2 L377.6,423 L378.8,424.9 L380.1,426.7 L382.3,428.1 Z" fill="#FF0000" stroke="#000" stroke-width="1.5" stroke-linejoin="miter" stroke-miterlimit="6"/>
<path d="M354.7,265 L355.6,264.4 L356.6,263.8 L357.6,263.2 L358.7,262.6 L359.9,262.1 L361.1,261.6 L362.3,261.1 L363.7,260.7 L365,260.3 L366.4,259.9 L367.8,259.6 L369.3,259.3 L370.9,259.1 L372.6,258.9 L374.5,258.7 L376.4,258.5 L378.4,258.4 L380.4,258.4 L382.3,258.3 L384.2,258.4 L386,258.4 L387.7,258.5 L389.1,258.7 L390.4,258.9 L391.5,259.2 L392.4,259.5 L393.3,259.8 L394,260.2 L394.6,260.6 L395.2,261.1 L395.6,261.6 L396,262.2 L396.3,262.8 L396.5,263.5 L396.7,264.2 L396.9,265 L397,265.8 L397,266.8 L396.9,267.8 L396.8,268.9 L396.6,270 L396.3,271.2 L396,272.4 L395.6,273.6 L395.2,274.7 L394.7,275.9 L394.2,276.9 L393.7,277.9 L393.1,278.9 L392.5,279.8 L391.8,280.8 L391.1,281.7 L390.3,282.6 L389.5,283.5 L388.7,284.4 L387.8,285.2 L386.8,285.9 L385.9,286.6 L384.9,287.2 L383.9,287.7 L382.9,288.1 L381.7,288.5 L380.6,288.8 L379.4,289.1 L378.2,289.2 L376.9,289.4 L375.6,289.5 L374.3,289.5 L373.1,289.5 L371.8,289.5 L370.5,289.4 L369.3,289.3 L368.1,289.2 L366.8,289 L365.5,288.8 L364.1,288.6 L362.8,288.3 L361.5,288 L360.2,287.7 L359,287.3 L357.8,286.8 L356.7,286.3 L355.6,285.8 L354.7,285.2 L353.8,284.5 L353,283.8 L352.2,283 L351.5,282.1 L350.8,281.2 L350.1,280.3 L349.6,279.3 L349.1,278.4 L348.7,277.4 L348.4,276.5 L348.3,275.6 L348.2,274.7 L348.3,273.9 L348.4,273 L348.7,272.1 L349.1,271.3 L349.6,270.4 L350.1,269.6 L350.8,268.7 L351.5,267.9 L352.2,267.1 L353,266.4 L353.8,265.7 L354.7,265 Z" fill="#5B9BD5" stroke="none" stroke-width="0" stroke-linejoin="round" />
<path d="M354.7,263.4 L355.6,262.8 L356.6,262.2 L357.6,261.6 L358.7,261 L359.9,260.5 L361.1,260 L362.3,259.5 L363.7,259.1 L365,258.7 L366.4,258.3 L367.8,258 L369.3,257.7 L370.9,257.5 L372.6,257.3 L374.5,257.1 L376.4,256.9 L378.4,256.8 L380.4,256.8 L382.3,256.7 L384.2,256.8 L386,256.8 L387.7,256.9 L389.1,257.1 L390.4,257.3 L391.5,257.6 L392.4,257.9 L393.3,258.2 L394,258.6 L394.6,259 L395.2,259.5 L395.6,260 L396,260.6 L396.3,261.2 L396.5,261.9 L396.7,262.6 L396.9,263.4 L397,264.2 L397,265.2 L396.9,266.2 L396.8,267.3 L396.6,268.4 L396.3,269.6 L396,270.8 L395.6,272 L395.2,273.1 L394.7,274.3 L394.2,275.3 L393.7,276.3 L393.1,277.3 L392.5,278.2 L391.8,279.2 L391.1,280.1 L390.3,281 L389.5,281.9 L388.7,282.8 L387.8,283.6 L386.8,284.3 L385.9,285 L384.9,285.6 L383.9,286.1 L382.9,286.5 L381.7,286.9 L380.6,287.2 L379.4,287.5 L378.2,287.6 L376.9,287.8 L375.6,287.9 L374.3,287.9 L373.1,287.9 L371.8,287.9 L370.5,287.8 L369.3,287.7 L368.1,287.6 L366.8,287.4 L365.5,287.2 L364.1,287 L362.8,286.7 L361.5,286.4 L360.2,286.1 L359,285.7 L357.8,285.2 L356.7,284.7 L355.6,284.2 L354.7,283.6 L353.8,282.9 L353,282.2 L352.2,281.4 L351.5,280.5 L350.8,279.6 L350.1,278.7 L349.6,277.7 L349.1,276.8 L348.7,275.8 L348.4,274.9 L348.3,274 L348.2,273.1 L348.3,272.3 L348.4,271.4 L348.7,270.5 L349.1,269.7 L349.6,268.8 L350.1,267.9 L350.8,267.1 L351.5,266.3 L352.2,265.5 L353,264.8 L353.8,264.1 L354.7,263.4 Z" fill="#5B9BD5" stroke="#000" stroke-width="2.2" stroke-linejoin="round" />
<text transform="translate(356.05,280.21) scale(0.751,1)" font-size="19.44" font-weight="bold" font-style="normal" fill="#000"  stroke="#000" stroke-width="0.55">FGF</text>
<path d="M395.1,461.9 L396,461.4 L397.1,460.9 L398.3,460.4 L399.5,459.9 L400.9,459.4 L402.3,459 L403.8,458.5 L405.4,458.1 L407,457.7 L408.6,457.3 L410.2,457 L411.8,456.6 L413.5,456.3 L415.3,456 L417.2,455.6 L419.2,455.3 L421.2,455 L423.2,454.7 L425.2,454.4 L427.1,454.2 L428.9,454.1 L430.6,454 L432.1,454.1 L433.3,454.2 L434.4,454.4 L435.4,454.7 L436.3,455 L437,455.5 L437.6,456 L438.2,456.6 L438.6,457.2 L439,457.8 L439.3,458.5 L439.6,459.1 L439.8,459.8 L440,460.4 L440.1,461.1 L440.2,461.8 L440.2,462.5 L440.1,463.2 L440,464 L439.8,464.8 L439.5,465.6 L439.2,466.4 L438.9,467.1 L438.5,467.9 L438,468.7 L437.6,469.4 L437.1,470.1 L436.5,470.9 L435.9,471.6 L435.3,472.4 L434.6,473.1 L433.9,473.9 L433.1,474.6 L432.3,475.3 L431.4,475.9 L430.5,476.5 L429.5,477.1 L428.4,477.6 L427.3,478 L426.1,478.4 L424.8,478.8 L423.4,479.2 L422,479.5 L420.5,479.8 L419,480 L417.5,480.2 L416,480.4 L414.6,480.5 L413.1,480.5 L411.8,480.6 L410.4,480.5 L409.1,480.5 L407.7,480.4 L406.3,480.2 L404.9,480 L403.6,479.8 L402.3,479.5 L401,479.2 L399.8,478.8 L398.7,478.4 L397.7,478 L396.8,477.6 L396,477.1 L395.2,476.5 L394.6,475.9 L393.9,475.2 L393.4,474.5 L392.9,473.8 L392.5,473 L392.2,472.3 L391.9,471.5 L391.7,470.8 L391.5,470.1 L391.4,469.4 L391.4,468.7 L391.3,468.1 L391.4,467.4 L391.5,466.8 L391.7,466.1 L391.9,465.5 L392.2,464.8 L392.6,464.2 L393.1,463.6 L393.6,463 L394.3,462.5 L395.1,461.9 Z" fill="#5B9BD5" stroke="none" stroke-width="0" stroke-linejoin="round" />
<path d="M395.1,460.3 L396,459.8 L397.1,459.3 L398.3,458.8 L399.5,458.3 L400.9,457.8 L402.3,457.4 L403.8,456.9 L405.4,456.5 L407,456.1 L408.6,455.7 L410.2,455.4 L411.8,455 L413.5,454.7 L415.3,454.4 L417.2,454 L419.2,453.7 L421.2,453.4 L423.2,453.1 L425.2,452.8 L427.1,452.6 L428.9,452.5 L430.6,452.4 L432.1,452.5 L433.3,452.6 L434.4,452.8 L435.4,453.1 L436.3,453.4 L437,453.9 L437.6,454.4 L438.2,455 L438.6,455.6 L439,456.2 L439.3,456.9 L439.6,457.5 L439.8,458.2 L440,458.8 L440.1,459.5 L440.2,460.2 L440.2,460.9 L440.1,461.6 L440,462.4 L439.8,463.2 L439.5,464 L439.2,464.8 L438.9,465.5 L438.5,466.3 L438,467.1 L437.6,467.8 L437.1,468.5 L436.5,469.3 L435.9,470 L435.3,470.8 L434.6,471.5 L433.9,472.3 L433.1,473 L432.3,473.7 L431.4,474.3 L430.5,474.9 L429.5,475.5 L428.4,476 L427.3,476.4 L426.1,476.8 L424.8,477.2 L423.4,477.6 L422,477.9 L420.5,478.2 L419,478.4 L417.5,478.6 L416,478.8 L414.6,478.9 L413.1,478.9 L411.8,479 L410.4,478.9 L409.1,478.9 L407.7,478.8 L406.3,478.6 L404.9,478.4 L403.6,478.2 L402.3,477.9 L401,477.6 L399.8,477.2 L398.7,476.8 L397.7,476.4 L396.8,476 L396,475.5 L395.2,474.9 L394.6,474.3 L393.9,473.6 L393.4,472.9 L392.9,472.2 L392.5,471.4 L392.2,470.7 L391.9,469.9 L391.7,469.2 L391.5,468.5 L391.4,467.8 L391.4,467.1 L391.3,466.5 L391.4,465.8 L391.5,465.2 L391.7,464.5 L391.9,463.9 L392.2,463.2 L392.6,462.6 L393.1,462 L393.6,461.4 L394.3,460.9 L395.1,460.3 Z" fill="#5B9BD5" stroke="#000" stroke-width="2.2" stroke-linejoin="round" />
<text transform="translate(398.59,472.31) scale(0.734,1)" font-size="19.01" font-weight="bold" font-style="normal" fill="#000"  stroke="#000" stroke-width="0.55">FGF</text>
<path d="M397,438.6 L397.9,438 L399,437.4 L400.2,436.8 L401.5,436.3 L402.9,435.8 L404.4,435.2 L405.9,434.7 L407.5,434.3 L409.1,433.8 L410.7,433.4 L412.4,433 L414,432.6 L415.7,432.2 L417.6,431.8 L419.5,431.4 L421.5,431.1 L423.6,430.7 L425.6,430.4 L427.7,430.1 L429.6,429.9 L431.5,429.7 L433.2,429.7 L434.7,429.7 L436,429.8 L437.1,430 L438.1,430.4 L439,430.8 L439.7,431.3 L440.4,431.9 L440.9,432.5 L441.4,433.2 L441.8,433.9 L442.1,434.7 L442.4,435.4 L442.6,436.2 L442.8,436.9 L442.9,437.6 L443,438.4 L443,439.3 L442.9,440.1 L442.8,441 L442.6,441.9 L442.3,442.8 L442,443.7 L441.6,444.5 L441.2,445.4 L440.8,446.3 L440.3,447.1 L439.8,447.9 L439.2,448.8 L438.6,449.6 L438,450.5 L437.3,451.3 L436.6,452.2 L435.8,453 L434.9,453.8 L434,454.5 L433.1,455.2 L432.1,455.8 L431,456.4 L429.8,456.9 L428.6,457.4 L427.3,457.8 L425.8,458.2 L424.4,458.6 L422.9,458.9 L421.4,459.2 L419.8,459.4 L418.3,459.6 L416.8,459.7 L415.4,459.8 L414,459.8 L412.6,459.8 L411.2,459.7 L409.8,459.6 L408.4,459.4 L407,459.2 L405.6,458.9 L404.3,458.6 L403,458.2 L401.8,457.8 L400.7,457.4 L399.6,456.9 L398.7,456.4 L397.9,455.8 L397.1,455.2 L396.4,454.5 L395.8,453.7 L395.2,452.9 L394.8,452.1 L394.3,451.2 L394,450.4 L393.7,449.5 L393.5,448.7 L393.3,447.9 L393.2,447.1 L393.1,446.4 L393.1,445.6 L393.2,444.9 L393.3,444.1 L393.5,443.4 L393.7,442.6 L394,441.9 L394.4,441.2 L394.9,440.5 L395.5,439.9 L396.2,439.2 L397,438.6 Z" fill="#5B9BD5" stroke="none" stroke-width="0" stroke-linejoin="round" />
<path d="M397,437 L397.9,436.4 L399,435.8 L400.2,435.2 L401.5,434.7 L402.9,434.2 L404.4,433.6 L405.9,433.1 L407.5,432.7 L409.1,432.2 L410.7,431.8 L412.4,431.4 L414,431 L415.7,430.6 L417.6,430.2 L419.5,429.8 L421.5,429.5 L423.6,429.1 L425.6,428.8 L427.7,428.5 L429.6,428.3 L431.5,428.1 L433.2,428.1 L434.7,428.1 L436,428.2 L437.1,428.4 L438.1,428.8 L439,429.2 L439.7,429.7 L440.4,430.3 L440.9,430.9 L441.4,431.6 L441.8,432.3 L442.1,433.1 L442.4,433.8 L442.6,434.6 L442.8,435.3 L442.9,436 L443,436.8 L443,437.7 L442.9,438.5 L442.8,439.4 L442.6,440.3 L442.3,441.2 L442,442.1 L441.6,442.9 L441.2,443.8 L440.8,444.7 L440.3,445.5 L439.8,446.3 L439.2,447.2 L438.6,448 L438,448.9 L437.3,449.7 L436.6,450.6 L435.8,451.4 L434.9,452.2 L434,452.9 L433.1,453.6 L432.1,454.2 L431,454.8 L429.8,455.3 L428.6,455.8 L427.3,456.2 L425.8,456.6 L424.4,457 L422.9,457.3 L421.4,457.6 L419.8,457.8 L418.3,458 L416.8,458.1 L415.4,458.2 L414,458.2 L412.6,458.2 L411.2,458.1 L409.8,458 L408.4,457.8 L407,457.6 L405.6,457.3 L404.3,457 L403,456.6 L401.8,456.2 L400.7,455.8 L399.6,455.3 L398.7,454.8 L397.9,454.2 L397.1,453.6 L396.4,452.9 L395.8,452.1 L395.2,451.3 L394.8,450.5 L394.3,449.6 L394,448.8 L393.7,447.9 L393.5,447.1 L393.3,446.3 L393.2,445.5 L393.1,444.8 L393.1,444 L393.2,443.3 L393.3,442.5 L393.5,441.8 L393.7,441 L394,440.3 L394.4,439.6 L394.9,438.9 L395.5,438.3 L396.2,437.6 L397,437 Z" fill="#5B9BD5" stroke="#000" stroke-width="2.2" stroke-linejoin="round" />
<text transform="translate(401.02,452.10) scale(0.737,1)" font-size="20.42" font-weight="bold" font-style="normal" fill="#000"  stroke="#000" stroke-width="0.55">FGF</text>
<path d="M402,476 L403.2,475.5 L404.5,475 L406,474.6 L407.7,474.2 L409.5,473.9 L411.3,473.7 L413.2,473.4 L415.1,473.2 L417,473.1 L418.9,472.9 L420.7,472.7 L422.5,472.6 L424.3,472.5 L426.1,472.3 L428,472.2 L429.9,472.1 L431.8,472 L433.7,472 L435.5,472 L437.3,472 L438.9,472 L440.4,472.2 L441.7,472.4 L442.8,472.6 L443.7,472.9 L444.4,473.3 L445,473.7 L445.4,474.1 L445.8,474.7 L446,475.2 L446.1,475.8 L446.2,476.4 L446.2,477.1 L446.2,477.8 L446.2,478.5 L446.2,479.3 L446.2,480.1 L446.1,481 L445.9,481.9 L445.8,482.9 L445.5,484 L445.2,485 L444.9,486.1 L444.6,487.2 L444.2,488.2 L443.7,489.3 L443.3,490.3 L442.8,491.2 L442.3,492.1 L441.8,493.1 L441.3,494 L440.7,495 L440.1,495.9 L439.5,496.8 L438.8,497.7 L438,498.6 L437.2,499.4 L436.4,500.1 L435.4,500.8 L434.4,501.4 L433.3,501.9 L432.1,502.5 L430.8,502.9 L429.4,503.4 L427.9,503.7 L426.4,504.1 L424.9,504.3 L423.4,504.5 L421.9,504.7 L420.3,504.8 L418.8,504.8 L417.4,504.8 L415.9,504.7 L414.4,504.5 L412.8,504.3 L411.2,504 L409.6,503.7 L408,503.3 L406.5,502.9 L405.1,502.3 L403.7,501.8 L402.4,501.1 L401.3,500.4 L400.4,499.7 L399.6,498.9 L398.9,497.9 L398.4,496.8 L397.9,495.7 L397.6,494.5 L397.3,493.2 L397.1,491.9 L397,490.7 L396.9,489.5 L396.9,488.3 L396.9,487.1 L397,486.1 L397.1,485.1 L397.2,484.1 L397.3,483.2 L397.5,482.2 L397.7,481.3 L398,480.4 L398.4,479.6 L398.9,478.7 L399.5,478 L400.2,477.3 L401,476.6 L402,476 Z" fill="#5B9BD5" stroke="none" stroke-width="0" stroke-linejoin="round" />
<path d="M402,474.4 L403.2,473.9 L404.5,473.4 L406,473 L407.7,472.6 L409.5,472.3 L411.3,472.1 L413.2,471.8 L415.1,471.6 L417,471.5 L418.9,471.3 L420.7,471.1 L422.5,471 L424.3,470.9 L426.1,470.7 L428,470.6 L429.9,470.5 L431.8,470.4 L433.7,470.4 L435.5,470.4 L437.3,470.4 L438.9,470.4 L440.4,470.6 L441.7,470.8 L442.8,471 L443.7,471.3 L444.4,471.7 L445,472.1 L445.4,472.5 L445.8,473.1 L446,473.6 L446.1,474.2 L446.2,474.8 L446.2,475.5 L446.2,476.2 L446.2,476.9 L446.2,477.7 L446.2,478.5 L446.1,479.4 L445.9,480.3 L445.8,481.3 L445.5,482.4 L445.2,483.4 L444.9,484.5 L444.6,485.6 L444.2,486.6 L443.7,487.7 L443.3,488.7 L442.8,489.6 L442.3,490.5 L441.8,491.5 L441.3,492.4 L440.7,493.4 L440.1,494.3 L439.5,495.2 L438.8,496.1 L438,497 L437.2,497.8 L436.4,498.5 L435.4,499.2 L434.4,499.8 L433.3,500.3 L432.1,500.9 L430.8,501.3 L429.4,501.8 L427.9,502.1 L426.4,502.5 L424.9,502.7 L423.4,502.9 L421.9,503.1 L420.3,503.2 L418.8,503.2 L417.4,503.2 L415.9,503.1 L414.4,502.9 L412.8,502.7 L411.2,502.4 L409.6,502.1 L408,501.7 L406.5,501.3 L405.1,500.7 L403.7,500.2 L402.4,499.5 L401.3,498.8 L400.4,498.1 L399.6,497.3 L398.9,496.3 L398.4,495.2 L397.9,494.1 L397.6,492.9 L397.3,491.6 L397.1,490.3 L397,489.1 L396.9,487.9 L396.9,486.7 L396.9,485.5 L397,484.5 L397.1,483.5 L397.2,482.5 L397.3,481.6 L397.5,480.6 L397.7,479.7 L398,478.8 L398.4,478 L398.9,477.1 L399.5,476.4 L400.2,475.7 L401,475 L402,474.4 Z" fill="#5B9BD5" stroke="#000" stroke-width="2.2" stroke-linejoin="round" />
<text transform="translate(404.54,494.50) scale(0.727,1)" font-size="20.28" font-weight="bold" font-style="normal" fill="#000"  stroke="#000" stroke-width="0.55">FGF</text>
<text transform="translate(473.86,98.10) scale(0.720,1)" font-size="19.72" font-weight="normal" font-style="normal" fill="#000" stroke="#000" stroke-width="0.5">FGFR1</text>
<defs><filter id="glow" x="-20%" y="-40%" width="140%" height="180%"><feMorphology in="SourceAlpha" operator="dilate" radius="1.5" result="d"/><feGaussianBlur in="d" stdDeviation="1.6" result="b"/><feFlood flood-color="#fff"/><feComposite in2="b" operator="in" result="g"/><feMerge><feMergeNode in="g"/><feMergeNode in="SourceGraphic"/></feMerge></filter></defs>
<g filter="url(#glow)">
<text transform="translate(829.17,351.20) scale(0.844,1)" font-size="19.59" font-weight="bold" font-style="italic" fill="#000" stroke="#000" stroke-width="1">Proliferation</text>
<text transform="translate(829.87,376.61) scale(0.850,1)" font-size="19.32" font-weight="bold" font-style="italic" fill="#000" stroke="#000" stroke-width="1">Fusion</text>
<path d="M815,354 L815,339.5 M808.5,346 L815,338.5 L821.5,346" fill="none" stroke="#000" stroke-width="2.6"/>
<path d="M815,361.5 L815,378 M808.5,371.5 L815,378.5 L821.5,371.5" fill="none" stroke="#000" stroke-width="2.6"/>
</g>
</svg>
</body></html>
